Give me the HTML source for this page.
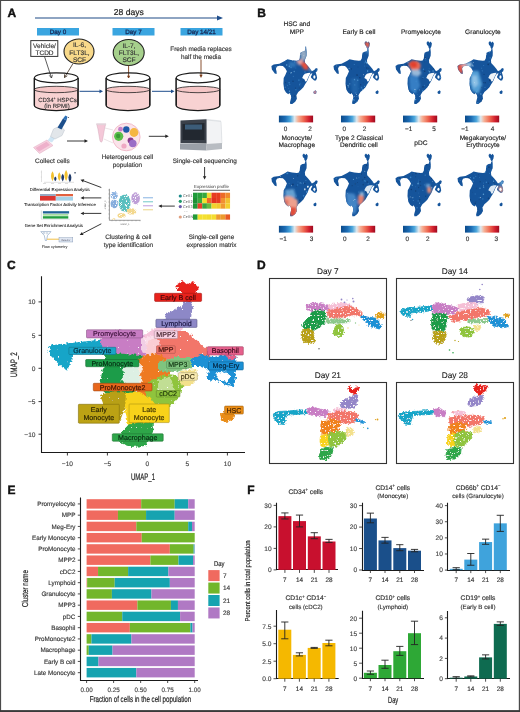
<!DOCTYPE html>
<html><head><meta charset="utf-8"><style>
html,body{margin:0;padding:0;background:#fff;}
svg{display:block;font-family:"Liberation Sans", sans-serif;text-rendering:geometricPrecision;will-change:transform;}
</style></head><body>
<svg width="520" height="712" viewBox="0 0 520 712">
<rect x="0" y="0" width="520" height="712" fill="#fff"/>
<filter id="fzA" x="-10%" y="-10%" width="120%" height="120%">
<feTurbulence type="fractalNoise" baseFrequency="0.8" numOctaves="1" seed="2" result="t"/>
<feDisplacementMap in="SourceGraphic" in2="t" scale="2.5" xChannelSelector="R" yChannelSelector="G" result="d"/>
<feTurbulence type="fractalNoise" baseFrequency="1.1" numOctaves="1" seed="9" result="n"/>
<feColorMatrix in="n" type="matrix" values="0 0 0 0 1  0 0 0 0 1  0 0 0 0 1  0 0 0 9 -5.2" result="wn"/>
<feComposite in="wn" in2="d" operator="in" result="wm"/>
<feMerge><feMergeNode in="d"/><feMergeNode in="wm"/></feMerge>
</filter>
<text x="7.4" y="17.1" font-size="12" text-anchor="start" fill="#111" font-weight="bold" stroke="#111" stroke-width="0.420" >A</text>
<text x="128.8" y="15" font-size="8.6" text-anchor="middle" fill="#222" stroke="#222" stroke-width="0.189" >28 days</text>
<line x1="35" y1="18" x2="219" y2="18" stroke="#1f4a85" stroke-width="1.1"/>
<path d="M223,18 L217,15.6 L217,20.4 Z" fill="#1f4e8c"/>
<rect x="37" y="28" width="42" height="7.5" fill="#3aa5e0"/>
<text x="58" y="34" font-size="6.3" text-anchor="middle" fill="#1a3260" stroke="#1a3260" stroke-width="0.320" >Day 0</text>
<rect x="112.5" y="28" width="42" height="7.5" fill="#3aa5e0"/>
<text x="133.5" y="34" font-size="6.3" text-anchor="middle" fill="#1a3260" stroke="#1a3260" stroke-width="0.320" >Day 7</text>
<rect x="180.5" y="28" width="42" height="7.5" fill="#3aa5e0"/>
<text x="201.5" y="34" font-size="6.3" text-anchor="middle" fill="#1a3260" stroke="#1a3260" stroke-width="0.320" >Day 14/21</text>
<rect x="30.8" y="40.6" width="27" height="15.8" fill="#fff" stroke="#333" stroke-width="1"/>
<text x="44.5" y="48" font-size="6.5" text-anchor="middle" fill="#333" stroke="#333" stroke-width="0.143" >Vehicle/</text>
<text x="44.5" y="55" font-size="6.5" text-anchor="middle" fill="#333" stroke="#333" stroke-width="0.143" >TCDD</text>
<ellipse cx="79" cy="51.5" rx="15" ry="12.5" fill="#f8d98a" stroke="#222" stroke-width="1.1"/>
<text x="79.5" y="46.9" font-size="6.6" text-anchor="middle" fill="#333" stroke="#333" stroke-width="0.145" >IL-6,</text>
<text x="79.5" y="54.5" font-size="6.6" text-anchor="middle" fill="#333" stroke="#333" stroke-width="0.145" >FLT3L,</text>
<text x="79.5" y="62.099999999999994" font-size="6.6" text-anchor="middle" fill="#333" stroke="#333" stroke-width="0.145" >SCF</text>
<ellipse cx="128.7" cy="52.5" rx="15.5" ry="13" fill="#a6d08c" stroke="#222" stroke-width="1.1"/>
<text x="129" y="47.6" font-size="6.6" text-anchor="middle" fill="#333" stroke="#333" stroke-width="0.145" >IL-7,</text>
<text x="129" y="55.0" font-size="6.6" text-anchor="middle" fill="#333" stroke="#333" stroke-width="0.145" >FLT3L,</text>
<text x="129" y="62.400000000000006" font-size="6.6" text-anchor="middle" fill="#333" stroke="#333" stroke-width="0.145" >SCF</text>
<path d="M44.5,56.5 L51.5,78" stroke="#333" stroke-width="0.8" fill="none"/>
<path d="M51.5,78 L49.3,75.4 M51.5,78 L52.4,74.8" stroke="#333" stroke-width="0.8" fill="none"/>
<path d="M73,63.5 L64.5,77.5" stroke="#3a2a1a" stroke-width="0.8" fill="none"/>
<path d="M64.5,77.5 L64.5,74.3 M64.5,77.5 L67.3,75.8" stroke="#3a2a1a" stroke-width="0.8" fill="none"/>
<line x1="128.6" y1="65.5" x2="128.6" y2="77" stroke="#7a3c1a" stroke-width="0.9"/>
<path d="M128.6,79 L127.0,75.8 L130.2,75.8 Z" fill="#7a3c1a"/>
<line x1="201" y1="59.5" x2="201" y2="76" stroke="#7a3c1a" stroke-width="0.9"/>
<path d="M201,78 L199.4,74.8 L202.6,74.8 Z" fill="#7a3c1a"/>
<text x="201" y="51" font-size="6.4" text-anchor="middle" fill="#333" stroke="#333" stroke-width="0.141" >Fresh media replaces</text>
<text x="201" y="58.6" font-size="6.4" text-anchor="middle" fill="#333" stroke="#333" stroke-width="0.141" >half the media</text>
<path d="M34.400000000000006,78 L34.400000000000006,105.5 A21.8,5 0 0 0 78.0,105.5 L78.0,78" fill="#f8d2d2" stroke="#1a1a1a" stroke-width="1.25"/>
<path d="M34.400000000000006,78 L34.400000000000006,89.5 L78.0,89.5 L78.0,78 Z" fill="#fff"/>
<ellipse cx="56.2" cy="89.5" rx="21.8" ry="3.2" fill="#f5c6c6" stroke="#222" stroke-width="0.8"/>
<path d="M34.400000000000006,78 L34.400000000000006,105.5 M78.0,78 L78.0,105.5" stroke="#1a1a1a" stroke-width="1.25"/>
<ellipse cx="56.2" cy="77.8" rx="21.8" ry="5" fill="none" stroke="#1a1a1a" stroke-width="1.2"/>
<path d="M106.2,78 L106.2,105.5 A21.8,5 0 0 0 149.8,105.5 L149.8,78" fill="#f8d2d2" stroke="#1a1a1a" stroke-width="1.25"/>
<path d="M106.2,78 L106.2,89.5 L149.8,89.5 L149.8,78 Z" fill="#fff"/>
<ellipse cx="128" cy="89.5" rx="21.8" ry="3.2" fill="#f5c6c6" stroke="#222" stroke-width="0.8"/>
<path d="M106.2,78 L106.2,105.5 M149.8,78 L149.8,105.5" stroke="#1a1a1a" stroke-width="1.25"/>
<ellipse cx="128" cy="77.8" rx="21.8" ry="5" fill="none" stroke="#1a1a1a" stroke-width="1.2"/>
<path d="M176.2,78 L176.2,105.5 A21.8,5 0 0 0 219.8,105.5 L219.8,78" fill="#f8d2d2" stroke="#1a1a1a" stroke-width="1.25"/>
<path d="M176.2,78 L176.2,89.5 L219.8,89.5 L219.8,78 Z" fill="#fff"/>
<ellipse cx="198" cy="89.5" rx="21.8" ry="3.2" fill="#f5c6c6" stroke="#222" stroke-width="0.8"/>
<path d="M176.2,78 L176.2,105.5 M219.8,78 L219.8,105.5" stroke="#1a1a1a" stroke-width="1.25"/>
<ellipse cx="198" cy="77.8" rx="21.8" ry="5" fill="none" stroke="#1a1a1a" stroke-width="1.2"/>
<text x="57.5" y="101.6" font-size="6.0" text-anchor="middle" fill="#333" stroke="#333" stroke-width="0.132" >CD34⁺ HSPCs</text>
<text x="57" y="107.7" font-size="6.0" text-anchor="middle" fill="#333" stroke="#333" stroke-width="0.132" >(in RPMI)</text>
<line x1="79.5" y1="91.3" x2="100.5" y2="91.3" stroke="#1f4e8c" stroke-width="1"/>
<path d="M103,91.3 L99.5,89.4 L99.5,93.2 Z" fill="#1f4e8c"/>
<line x1="152" y1="91.3" x2="172.0" y2="91.3" stroke="#1f4e8c" stroke-width="1"/>
<path d="M174.5,91.3 L171.0,89.4 L171.0,93.2 Z" fill="#1f4e8c"/>
<path d="M33.5,147.5 L47,140 L53,145.5 L39.5,153.5 Z" fill="#f6d0de" stroke="#e0a8c0" stroke-width="0.5"/>
<path d="M35.5,148 L46.5,141.8 L50,145 L39,151.5 Z" fill="#eeb0cb"/>
<path d="M47.5,140.5 L51,136 L55,138.5 L52,142.5 Z" fill="#cfe6f5"/>
<path d="M50.5,136.5 L53.5,129 L60,126 L64.5,130 L62,135.5 L55,139 Z" fill="#e2e6ea" stroke="#b8c0ca" stroke-width="0.5"/>
<path d="M57.5,127.5 L63,118.5 L66.5,120.5 L61.5,129.5 Z" fill="#1d4f8c"/>
<path d="M63,118.5 L65.5,115.5 L67.5,116.8 L66.5,120.5 Z" fill="#2c6fb5"/>
<circle cx="68.5" cy="117.5" r="0.6" fill="#556"/>
<line x1="67" y1="141" x2="85.5" y2="141" stroke="#222" stroke-width="0.9"/>
<path d="M88,141 L84.5,139.3 L84.5,142.7 Z" fill="#222"/>
<text x="52.3" y="163.3" font-size="6.5" text-anchor="middle" fill="#333" stroke="#333" stroke-width="0.143" >Collect cells</text>
<path d="M96.8,124.5 L105.6,124.5 L104.5,129 L102.5,140.5 Q101.2,144 99.9,140.5 L97.9,129 Z" fill="#f4c8d8" stroke="#c9a0b0" stroke-width="0.4"/>
<rect x="96.3" y="123.3" width="9.8" height="1.8" fill="#e3d2da"/>
<path d="M105,128 L113,130 M104,139 L113,143" stroke="#d9c9cf" stroke-width="0.5"/>
<circle cx="126.3" cy="137" r="13.8" fill="#fbe3ea" stroke="#efb0c2" stroke-width="0.8"/>
<circle cx="118.7" cy="136.3" r="4.6" fill="#5cbf4a"/><circle cx="118.2" cy="136" r="2.2" fill="#3c9a35"/>
<circle cx="126.3" cy="129.5" r="3.2" fill="#1f5aa8"/>
<circle cx="134" cy="132.5" r="4.4" fill="#f5b642"/>
<circle cx="130.6" cy="140.4" r="3" fill="#8a3a8a"/>
<circle cx="132.8" cy="143.5" r="3.8" fill="#9b6cc6"/>
<circle cx="120.5" cy="129.2" r="2.4" fill="#c580c8"/>
<circle cx="124" cy="146" r="2.6" fill="#f0a9c3"/>
<line x1="148.8" y1="136.3" x2="166.3" y2="136.3" stroke="#222" stroke-width="0.9"/>
<path d="M168.8,136.3 L165.3,134.6 L165.3,138 Z" fill="#222"/>
<text x="127.4" y="159.3" font-size="6.4" text-anchor="middle" fill="#333" stroke="#333" stroke-width="0.141" >Heterogenous cell</text>
<text x="127.4" y="167.2" font-size="6.4" text-anchor="middle" fill="#333" stroke="#333" stroke-width="0.141" >population</text>
<path d="M180.5,121 L205.5,118.8 L221,120.5 L222,143 L206.5,146 L180.5,144 Z" fill="#e9ebee"/>
<path d="M206.5,120 L221,121.5 L222,143.5 L206.5,146 Z" fill="#f2f3f5" stroke="#c8ccd2" stroke-width="0.4"/>
<path d="M180.5,120.5 L206.5,119.3 L206.5,143.5 L180.5,143 Z" fill="#3b414a"/>
<path d="M182.5,124 L204.5,123 L204.5,140 L182.5,140 Z" fill="#222830"/>
<rect x="185" y="124.5" width="17" height="5" fill="#3c5c78"/>
<path d="M180,143.5 L206.5,144 L206.5,150.5 L180,149.5 Z" fill="#9aa0a8"/>
<path d="M206.5,144 L222,143 L222,149 L206.5,150.5 Z" fill="#b8bcc2"/>
<text x="204.8" y="163.3" font-size="6.4" text-anchor="middle" fill="#333" stroke="#333" stroke-width="0.141" >Single-cell sequencing</text>
<line x1="204.6" y1="167" x2="204.6" y2="177" stroke="#222" stroke-width="0.9"/>
<path d="M204.6,179.6 L202.9,176.2 L206.3,176.2 Z" fill="#222"/>
<text x="211.5" y="187.6" font-size="4.4" text-anchor="middle" fill="#333" stroke="#333" stroke-width="0.000" >Expression profile</text>
<line x1="193" y1="190.3" x2="230" y2="190.3" stroke="#222" stroke-width="0.7"/>
<rect x="193.00" y="192.70" width="4.67" height="5.35" fill="#1f9a3a"/>
<rect x="197.62" y="192.70" width="4.67" height="5.35" fill="#2aa03c"/>
<rect x="202.25" y="192.70" width="4.67" height="5.35" fill="#35a83e"/>
<rect x="206.88" y="192.70" width="4.67" height="5.35" fill="#f0d830"/>
<rect x="211.50" y="192.70" width="4.67" height="5.35" fill="#e83a20"/>
<rect x="216.12" y="192.70" width="4.67" height="5.35" fill="#e63c1e"/>
<rect x="220.75" y="192.70" width="4.67" height="5.35" fill="#ec6a28"/>
<rect x="225.38" y="192.70" width="4.67" height="5.35" fill="#f08a2e"/>
<rect x="193.00" y="198.00" width="4.67" height="5.35" fill="#1f8f36"/>
<rect x="197.62" y="198.00" width="4.67" height="5.35" fill="#3aa83e"/>
<rect x="202.25" y="198.00" width="4.67" height="5.35" fill="#f2e02e"/>
<rect x="206.88" y="198.00" width="4.67" height="5.35" fill="#ec6a26"/>
<rect x="211.50" y="198.00" width="4.67" height="5.35" fill="#e3321e"/>
<rect x="216.12" y="198.00" width="4.67" height="5.35" fill="#e63c22"/>
<rect x="220.75" y="198.00" width="4.67" height="5.35" fill="#f29030"/>
<rect x="225.38" y="198.00" width="4.67" height="5.35" fill="#f2c030"/>
<rect x="193.00" y="203.30" width="4.67" height="5.35" fill="#20963a"/>
<rect x="197.62" y="203.30" width="4.67" height="5.35" fill="#e84028"/>
<rect x="202.25" y="203.30" width="4.67" height="5.35" fill="#3aa43c"/>
<rect x="206.88" y="203.30" width="4.67" height="5.35" fill="#6ab83c"/>
<rect x="211.50" y="203.30" width="4.67" height="5.35" fill="#f2d22c"/>
<rect x="216.12" y="203.30" width="4.67" height="5.35" fill="#f2c82c"/>
<rect x="220.75" y="203.30" width="4.67" height="5.35" fill="#f09a30"/>
<rect x="225.38" y="203.30" width="4.67" height="5.35" fill="#f4d02e"/>
<rect x="193.00" y="214.4" width="4.67" height="5.3" fill="#229a38"/>
<rect x="197.62" y="214.4" width="4.67" height="5.3" fill="#f4e030"/>
<rect x="202.25" y="214.4" width="4.67" height="5.3" fill="#f4e030"/>
<rect x="206.88" y="214.4" width="4.67" height="5.3" fill="#f2dc2e"/>
<rect x="211.50" y="214.4" width="4.67" height="5.3" fill="#f4dc30"/>
<rect x="216.12" y="214.4" width="4.67" height="5.3" fill="#ee9a2e"/>
<rect x="220.75" y="214.4" width="4.67" height="5.3" fill="#ec9a2e"/>
<rect x="225.38" y="214.4" width="4.67" height="5.3" fill="#e85a24"/>
<circle cx="180.3" cy="196" r="1.6" fill="#1e8c8c"/>
<text x="183" y="197.4" font-size="3.8" text-anchor="start" fill="#555" stroke="#555" stroke-width="0.000" >Cell 1</text>
<circle cx="180.3" cy="201.3" r="1.6" fill="#1e9a6a"/>
<text x="183" y="202.70000000000002" font-size="3.8" text-anchor="start" fill="#555" stroke="#555" stroke-width="0.000" >Cell 2</text>
<circle cx="180.3" cy="206.6" r="1.6" fill="#6a5aa8"/>
<text x="183" y="208.0" font-size="3.8" text-anchor="start" fill="#555" stroke="#555" stroke-width="0.000" >Cell 3</text>
<circle cx="180.3" cy="217" r="1.6" fill="#e0a080"/>
<text x="183" y="218.4" font-size="3.8" text-anchor="start" fill="#555" stroke="#555" stroke-width="0.000" >Cell N</text>
<text x="186" y="211.5" font-size="4" fill="#777" text-anchor="middle">...</text>
<text x="211.5" y="239" font-size="6.4" text-anchor="middle" fill="#333" stroke="#333" stroke-width="0.141" >Single-cell gene</text>
<text x="211.5" y="247" font-size="6.4" text-anchor="middle" fill="#333" stroke="#333" stroke-width="0.141" >expression matrix</text>
<line x1="174.8" y1="206.1" x2="161" y2="206.1" stroke="#222" stroke-width="0.9"/>
<path d="M158.3,206.1 L161.8,204.4 L161.8,207.8 Z" fill="#222"/>
<path d="M109.4,188.8 L109.4,220.3 L140.5,220.3" stroke="#333" stroke-width="0.5" fill="none"/>
<line x1="108.3" y1="190" x2="109.4" y2="190" stroke="#444" stroke-width="0.3"/>
<line x1="108.3" y1="194" x2="109.4" y2="194" stroke="#444" stroke-width="0.3"/>
<line x1="108.3" y1="198" x2="109.4" y2="198" stroke="#444" stroke-width="0.3"/>
<line x1="108.3" y1="202" x2="109.4" y2="202" stroke="#444" stroke-width="0.3"/>
<line x1="108.3" y1="206" x2="109.4" y2="206" stroke="#444" stroke-width="0.3"/>
<line x1="108.3" y1="210" x2="109.4" y2="210" stroke="#444" stroke-width="0.3"/>
<line x1="108.3" y1="214" x2="109.4" y2="214" stroke="#444" stroke-width="0.3"/>
<line x1="108.3" y1="218" x2="109.4" y2="218" stroke="#444" stroke-width="0.3"/>
<line x1="112" y1="220.3" x2="112" y2="221.3" stroke="#444" stroke-width="0.3"/>
<line x1="116" y1="220.3" x2="116" y2="221.3" stroke="#444" stroke-width="0.3"/>
<line x1="120" y1="220.3" x2="120" y2="221.3" stroke="#444" stroke-width="0.3"/>
<line x1="124" y1="220.3" x2="124" y2="221.3" stroke="#444" stroke-width="0.3"/>
<line x1="128" y1="220.3" x2="128" y2="221.3" stroke="#444" stroke-width="0.3"/>
<line x1="132" y1="220.3" x2="132" y2="221.3" stroke="#444" stroke-width="0.3"/>
<line x1="136" y1="220.3" x2="136" y2="221.3" stroke="#444" stroke-width="0.3"/>
<line x1="140" y1="220.3" x2="140" y2="221.3" stroke="#444" stroke-width="0.3"/>
<g filter="url(#fzA)" opacity="0.85">
<ellipse cx="114.2" cy="195.5" rx="3.6" ry="3.4" fill="#7aa6dc"/>
<ellipse cx="114.2" cy="204" rx="3.6" ry="4.2" fill="#6f9fd8"/>
<ellipse cx="124.6" cy="203" rx="6" ry="8.6" fill="#3db4b4"/>
<ellipse cx="135.6" cy="198.3" rx="4.3" ry="6" fill="#b590d2"/>
<ellipse cx="131.5" cy="211.5" rx="5" ry="3.2" fill="#f2d27a"/>
<ellipse cx="121.5" cy="215.5" rx="4" ry="2.5" fill="#f2d27a"/>
<ellipse cx="114" cy="219" rx="1.4" ry="0.8" fill="#f2d27a"/>
</g>
<rect x="143" y="197" width="10" height="1.4" fill="#a8c8ea"/>
<rect x="143" y="201" width="10" height="1.4" fill="#9ad8d8"/>
<rect x="143" y="205" width="10" height="1.4" fill="#d0b8e6"/>
<rect x="143" y="209" width="10" height="1.4" fill="#f0e0a8"/>
<text x="106" y="205" font-size="2.2" text-anchor="middle" fill="#555" stroke="#555" stroke-width="0.000" transform="rotate(-90 106 205)">UMAP_2</text>
<text x="125" y="224.5" font-size="2.2" text-anchor="middle" fill="#555" stroke="#555" stroke-width="0.000" >UMAP_1</text>
<text x="128.4" y="239" font-size="6.4" text-anchor="middle" fill="#333" stroke="#333" stroke-width="0.141" >Clustering &amp; cell</text>
<text x="128.4" y="247" font-size="6.4" text-anchor="middle" fill="#333" stroke="#333" stroke-width="0.141" >type identification</text>
<line x1="101.3" y1="187.5" x2="83.68" y2="180.89" stroke="#222" stroke-width="0.9"/><path d="M80.5,179.7 L84.28,179.30 L83.09,182.49 Z" fill="#222"/>
<line x1="101.3" y1="197.9" x2="83.90" y2="197.90" stroke="#222" stroke-width="0.9"/><path d="M80.5,197.9 L83.90,196.20 L83.90,199.60 Z" fill="#222"/>
<line x1="101.3" y1="213.4" x2="83.90" y2="213.40" stroke="#222" stroke-width="0.9"/><path d="M80.5,213.4 L83.90,211.70 L83.90,215.10 Z" fill="#222"/>
<line x1="101.3" y1="223.8" x2="82.72" y2="233.43" stroke="#222" stroke-width="0.9"/><path d="M79.7,235 L81.94,231.93 L83.50,234.94 Z" fill="#222"/>
<path d="M41.5,170.5 L41.5,182 M40.8,172 L41.5,172 M40.8,177 L41.5,177 M44,182.3 L74,182.3" stroke="#999" stroke-width="0.3" fill="none"/>
<path d="M52.5,171.3 C54.4,174.3 54.59,177.3 52.5,181.3 C50.41,177.3 50.6,174.3 52.5,171.3 Z" fill="#f2c12e"/>
<path d="M55.3,176.4 C56.8,177.87 56.949999999999996,179.34 55.3,181.3 C53.65,179.34 53.8,177.87 55.3,176.4 Z" fill="#1f3a6a"/>
<path d="M59.3,172.2 C61.199999999999996,174.84 61.39,177.48 59.3,181 C57.209999999999994,177.48 57.4,174.84 59.3,172.2 Z" fill="#f2c12e"/>
<path d="M62.7,173.8 C64.5,176.11 64.68,178.42000000000002 62.7,181.5 C60.720000000000006,178.42000000000002 60.900000000000006,176.11 62.7,173.8 Z" fill="#1f3a6a"/>
<path d="M66.1,170 C68.1,173.3 68.3,176.6 66.1,181 C63.89999999999999,176.6 64.1,173.3 66.1,170 Z" fill="#f2c12e"/>
<path d="M69.9,173.4 C71.80000000000001,176.07 71.99000000000001,178.74 69.9,182.3 C67.81,178.74 68.0,176.07 69.9,173.4 Z" fill="#1f3a6a"/>
<rect x="74.3" y="172" width="1.5" height="1.5" fill="#5a6a80"/>
<rect x="43.0" y="183.2" width="3" height="0.5" fill="#bbb"/>
<rect x="51.0" y="183.2" width="3" height="0.5" fill="#bbb"/>
<rect x="58.0" y="183.2" width="3" height="0.5" fill="#bbb"/>
<rect x="65.0" y="183.2" width="3" height="0.5" fill="#bbb"/>
<text x="59.8" y="191.3" font-size="4.3" text-anchor="middle" fill="#222" stroke="#222" stroke-width="0.080" >Differential Expression Analysis</text>
<rect x="40" y="194" width="15.8" height="2" fill="#98a8c0"/>
<rect x="40" y="196" width="15.8" height="4.6" fill="#dc3530"/>
<rect x="55.8" y="194" width="17.2" height="2" fill="#e2603e"/>
<rect x="55.8" y="196" width="17.2" height="0.8" fill="#f0c8c0"/>
<rect x="55.8" y="196.8" width="17.2" height="3.8" fill="#a6d2e8"/>
<text x="60" y="205.8" font-size="4.3" text-anchor="middle" fill="#222" stroke="#222" stroke-width="0.080" >Transcription Factor Activity Inference</text>
<line x1="41.3" y1="210.5" x2="41.3" y2="219.3" stroke="#8aa" stroke-width="0.4"/>
<rect x="42.9" y="211.2" width="26.2" height="2.3" fill="#1f6496"/>
<rect x="42.9" y="214" width="25.4" height="1.7" fill="#a8dea0"/>
<rect x="42.9" y="216.2" width="25.4" height="2.4" fill="#22a040"/>
<line x1="41.3" y1="219.3" x2="70" y2="219.3" stroke="#aab" stroke-width="0.3"/>
<text x="53.8" y="226.6" font-size="4.3" text-anchor="middle" fill="#222" stroke="#222" stroke-width="0.080" >Gene Set Enrichment Analysis</text>
<path d="M40.8,231.6 L51,231.6 L47.5,235.5 L46.5,240.5 L45.3,240.5 L44.3,235.5 Z" fill="none" stroke="#6a8ab0" stroke-width="0.5"/>
<circle cx="44" cy="233" r="0.8" fill="none" stroke="#6a8ab0" stroke-width="0.3"/><circle cx="47" cy="233.3" r="0.8" fill="none" stroke="#6a8ab0" stroke-width="0.3"/>
<line x1="47" y1="239.2" x2="59" y2="239.2" stroke="#f0b830" stroke-width="0.9"/>
<rect x="59" y="237.7" width="13.8" height="4.3" fill="#dfe6f2" stroke="#7a8fb0" stroke-width="0.4"/>
<text x="65.9" y="240.8" font-size="2.4" text-anchor="middle" fill="#556" stroke="#556" stroke-width="0.000" >Detector</text>
<text x="54.6" y="248" font-size="3.8" text-anchor="middle" fill="#333" stroke="#333" stroke-width="0.060" >Flow cytometry</text>
<defs><linearGradient id="rdbu" x1="0" x2="1" y1="0" y2="0">
<stop offset="0" stop-color="#0b4a8a"/><stop offset="0.18" stop-color="#1c6cb4"/><stop offset="0.33" stop-color="#4aa6dc"/>
<stop offset="0.46" stop-color="#dfe9ee"/><stop offset="0.56" stop-color="#f6b196"/><stop offset="0.72" stop-color="#ef6a52"/>
<stop offset="0.88" stop-color="#d2202e"/><stop offset="1" stop-color="#9c0a20"/></linearGradient>
<filter id="blB" x="-50%" y="-50%" width="200%" height="200%"><feGaussianBlur stdDeviation="3.5"/></filter>
<filter id="blB2" x="-50%" y="-50%" width="200%" height="200%"><feGaussianBlur stdDeviation="1.6"/></filter></defs>
<text x="257.2" y="16.9" font-size="12" text-anchor="start" fill="#111" font-weight="bold" stroke="#111" stroke-width="0.420" >B</text>
<g transform="translate(259.595,-65.096) scale(0.2434,0.378)">
<clipPath id="bc0"><path d="M48.5,346.8 L58,342.8 L81.4,340.7 L105.2,333 L114.6,329 L133.5,331.5 L152.9,333 L160,332 L165,326 L166,318 L168,312 L176,309 L185,308 L188,302 L188,295 L191,295 L192,302 L193.5,310 L193,320 L189,326 L186,331 L187,339 L198.5,346.8 L207.9,354.2 L214.9,360.6 L224.3,357.4 L231.7,352.1 L238.7,354.2 L236.3,360.6 L230.5,363.5 L234.2,371.2 L236.3,378.8 L231.7,384.9 L224.3,384.9 L212.8,378.8 L210.4,375.7 L214.9,369.6 L217.4,366.7 L212,366.5 L207,370 L202,376 L198,383 L193,389 L187,395 L180,403 L171,409 L159,415.5 L151.2,424.3 L153.3,433.6 L146.3,441.3 L134.4,447.3 L126.1,447.3 L124.9,442.6 L129.8,430.4 L128.6,424.3 L122.4,418.2 L117.9,421.4 L108.5,416.7 L101.1,409 L97.8,393.9 L99,378.6 L105.2,371.2 L112.2,360.6 L105.2,352.9 L95.7,346.8 L81.4,346 L71.1,348.1 L67,354.2 L69.9,361.9 L69.9,368 L62.5,366.7 L50.5,355.8 Z M222,414 L230,411 L234,414 L232,420 L226,421 L221,418 Z"/></clipPath>
<path d="M48.5,346.8 L58,342.8 L81.4,340.7 L105.2,333 L114.6,329 L133.5,331.5 L152.9,333 L160,332 L165,326 L166,318 L168,312 L176,309 L185,308 L188,302 L188,295 L191,295 L192,302 L193.5,310 L193,320 L189,326 L186,331 L187,339 L198.5,346.8 L207.9,354.2 L214.9,360.6 L224.3,357.4 L231.7,352.1 L238.7,354.2 L236.3,360.6 L230.5,363.5 L234.2,371.2 L236.3,378.8 L231.7,384.9 L224.3,384.9 L212.8,378.8 L210.4,375.7 L214.9,369.6 L217.4,366.7 L212,366.5 L207,370 L202,376 L198,383 L193,389 L187,395 L180,403 L171,409 L159,415.5 L151.2,424.3 L153.3,433.6 L146.3,441.3 L134.4,447.3 L126.1,447.3 L124.9,442.6 L129.8,430.4 L128.6,424.3 L122.4,418.2 L117.9,421.4 L108.5,416.7 L101.1,409 L97.8,393.9 L99,378.6 L105.2,371.2 L112.2,360.6 L105.2,352.9 L95.7,346.8 L81.4,346 L71.1,348.1 L67,354.2 L69.9,361.9 L69.9,368 L62.5,366.7 L50.5,355.8 Z M222,414 L230,411 L234,414 L232,420 L226,421 L221,418 Z" fill="#15549b"/>
<g clip-path="url(#bc0)">
<ellipse cx="186.3" cy="362.6" rx="3.0" ry="2.2" fill="#2f78bc"/><ellipse cx="63.1" cy="365.9" rx="1.8" ry="1.3" fill="#5a9ed4"/><ellipse cx="111.4" cy="344.1" rx="3.0" ry="2.1" fill="#5a9ed4"/><ellipse cx="124.2" cy="366.7" rx="2.1" ry="1.5" fill="#123f78"/><ellipse cx="122.8" cy="413.3" rx="2.6" ry="1.9" fill="#5a9ed4"/><ellipse cx="121.3" cy="391.0" rx="3.0" ry="2.1" fill="#3a82c4"/><ellipse cx="163.1" cy="404.9" rx="3.0" ry="2.1" fill="#174d8a"/><ellipse cx="178.4" cy="348.5" rx="2.8" ry="2.0" fill="#12457f"/><ellipse cx="236.7" cy="357.9" rx="1.8" ry="1.3" fill="#2f78bc"/><ellipse cx="193.0" cy="374.5" rx="2.5" ry="1.8" fill="#174d8a"/><ellipse cx="106.6" cy="390.6" rx="2.8" ry="2.0" fill="#12457f"/><ellipse cx="147.3" cy="405.3" rx="2.0" ry="1.5" fill="#123f78"/><ellipse cx="185.0" cy="313.5" rx="2.8" ry="2.0" fill="#2a6db0"/><ellipse cx="164.9" cy="396.3" rx="2.5" ry="1.8" fill="#3a82c4"/><ellipse cx="180.5" cy="322.0" rx="3.0" ry="2.2" fill="#3a82c4"/><ellipse cx="128.6" cy="365.1" rx="2.8" ry="2.0" fill="#5a9ed4"/><ellipse cx="127.0" cy="421.1" rx="3.1" ry="2.2" fill="#2f78bc"/><ellipse cx="233.4" cy="357.7" rx="2.1" ry="1.5" fill="#2f78bc"/><ellipse cx="121.8" cy="338.4" rx="2.1" ry="1.5" fill="#174d8a"/><ellipse cx="124.1" cy="395.4" rx="2.0" ry="1.5" fill="#3a82c4"/><ellipse cx="114.6" cy="398.4" rx="2.4" ry="1.7" fill="#2a6db0"/><ellipse cx="119.9" cy="406.5" rx="2.0" ry="1.4" fill="#2a6db0"/><ellipse cx="161.6" cy="383.9" rx="3.2" ry="2.3" fill="#2f78bc"/><ellipse cx="166.2" cy="392.3" rx="1.9" ry="1.4" fill="#2f78bc"/><ellipse cx="171.1" cy="316.7" rx="1.9" ry="1.3" fill="#5a9ed4"/><ellipse cx="129.3" cy="350.4" rx="3.3" ry="2.4" fill="#2f78bc"/><ellipse cx="138.4" cy="374.1" rx="2.0" ry="1.4" fill="#3a82c4"/><ellipse cx="143.7" cy="336.1" rx="2.7" ry="1.9" fill="#2f78bc"/><ellipse cx="157.3" cy="332.7" rx="3.3" ry="2.4" fill="#3a82c4"/><ellipse cx="108.7" cy="391.5" rx="1.9" ry="1.3" fill="#174d8a"/><ellipse cx="64.7" cy="349.1" rx="3.0" ry="2.1" fill="#2a6db0"/><ellipse cx="63.5" cy="344.9" rx="2.0" ry="1.4" fill="#174d8a"/><ellipse cx="137.3" cy="387.3" rx="2.8" ry="2.0" fill="#0f3c74"/><ellipse cx="142.0" cy="361.4" rx="2.3" ry="1.7" fill="#5a9ed4"/><ellipse cx="122.1" cy="347.8" rx="2.9" ry="2.1" fill="#5a9ed4"/><ellipse cx="173.1" cy="311.8" rx="2.3" ry="1.6" fill="#2a6db0"/><ellipse cx="196.8" cy="368.4" rx="2.0" ry="1.5" fill="#5a9ed4"/><ellipse cx="197.4" cy="351.0" rx="3.2" ry="2.3" fill="#174d8a"/><ellipse cx="194.6" cy="366.2" rx="2.7" ry="1.9" fill="#174d8a"/><ellipse cx="148.9" cy="352.2" rx="1.9" ry="1.4" fill="#2a6db0"/><ellipse cx="187.5" cy="348.6" rx="3.0" ry="2.1" fill="#123f78"/><ellipse cx="178.7" cy="386.7" rx="2.5" ry="1.8" fill="#12457f"/><ellipse cx="144.2" cy="426.4" rx="2.9" ry="2.1" fill="#12457f"/><ellipse cx="106.4" cy="332.8" rx="2.4" ry="1.7" fill="#3a82c4"/><ellipse cx="149.2" cy="409.8" rx="2.8" ry="2.0" fill="#2f78bc"/>
<g filter="url(#blB)">
<path d="M166,305 L190,300 L195,318 L190,331 L170,331 Z" fill="#93a9c2" opacity="1.0"/>
<path d="M150,331 L178,329 L182,342 L160,344 Z" fill="#e4a2a2" opacity="1.0"/>
<path d="M170,338 L192,336 L200,348 L199,357 L185,357 L172,347 Z" fill="#e5503e" opacity="1.0"/>
<path d="M205,352 L214,356 L212,360 L204,358 Z" fill="#9dbbd8" opacity="0.9"/>
<path d="M120,335 L150,336 L148,350 L120,350 Z" fill="#3d85c6" opacity="0.6"/>
<path d="M219,411 L233,410 L236,421 L220,422 Z" fill="#d98c98" opacity="1.0"/>
</g>
<ellipse cx="182.0" cy="319.3" rx="1.7" ry="1.2" fill="#cfe2f2"/><ellipse cx="130.9" cy="363.5" rx="1.3" ry="0.9" fill="#ffffff"/><ellipse cx="104.7" cy="402.4" rx="1.4" ry="1.0" fill="#ffffff"/><ellipse cx="135.6" cy="332.2" rx="1.8" ry="1.3" fill="#cfe2f2"/><ellipse cx="169.4" cy="316.1" rx="1.2" ry="0.9" fill="#ffffff"/>
<ellipse cx="225" cy="376" rx="4.5" ry="4.5" fill="#fff"/>
<path d="M209,365 L198,365.5 L186,367 L180,371.5 L175,378.5 L184,382 L188,388 L193,387 L197,381 L201,375 L206,369.5 Z" fill="#ffffff" filter="url(#blB2)"/>
</g></g>
<text x="296.79999999999995" y="26.199999999999996" font-size="6.6" text-anchor="middle" fill="#222" stroke="#222" stroke-width="0.145" >HSC and</text>
<text x="296.79999999999995" y="33.8" font-size="6.6" text-anchor="middle" fill="#222" stroke="#222" stroke-width="0.145" >MPP</text>
<rect x="278.9" y="115.6" width="34.2" height="6.8" fill="url(#rdbu)"/>
<text x="285.6" y="130.5" font-size="6.4" text-anchor="middle" fill="#333" stroke="#333" stroke-width="0.141" >0</text>
<text x="310.0" y="130.5" font-size="6.4" text-anchor="middle" fill="#333" stroke="#333" stroke-width="0.141" >2</text>
<g transform="translate(321.695,-65.096) scale(0.2434,0.378)">
<clipPath id="bc1"><path d="M48.5,346.8 L58,342.8 L81.4,340.7 L105.2,333 L114.6,329 L133.5,331.5 L152.9,333 L160,332 L165,326 L166,318 L168,312 L176,309 L185,308 L188,302 L188,295 L191,295 L192,302 L193.5,310 L193,320 L189,326 L186,331 L187,339 L198.5,346.8 L207.9,354.2 L214.9,360.6 L224.3,357.4 L231.7,352.1 L238.7,354.2 L236.3,360.6 L230.5,363.5 L234.2,371.2 L236.3,378.8 L231.7,384.9 L224.3,384.9 L212.8,378.8 L210.4,375.7 L214.9,369.6 L217.4,366.7 L212,366.5 L207,370 L202,376 L198,383 L193,389 L187,395 L180,403 L171,409 L159,415.5 L151.2,424.3 L153.3,433.6 L146.3,441.3 L134.4,447.3 L126.1,447.3 L124.9,442.6 L129.8,430.4 L128.6,424.3 L122.4,418.2 L117.9,421.4 L108.5,416.7 L101.1,409 L97.8,393.9 L99,378.6 L105.2,371.2 L112.2,360.6 L105.2,352.9 L95.7,346.8 L81.4,346 L71.1,348.1 L67,354.2 L69.9,361.9 L69.9,368 L62.5,366.7 L50.5,355.8 Z M222,414 L230,411 L234,414 L232,420 L226,421 L221,418 Z"/><path d="M176,285 L182,281 L188,285 L193,282 L198,287 L196,295 L191,299 L188,302 L183,294 L178,291 Z"/><path d="M184,296 L186,300 L191,300 L193,296 L190,293 Z"/></clipPath>
<path d="M48.5,346.8 L58,342.8 L81.4,340.7 L105.2,333 L114.6,329 L133.5,331.5 L152.9,333 L160,332 L165,326 L166,318 L168,312 L176,309 L185,308 L188,302 L188,295 L191,295 L192,302 L193.5,310 L193,320 L189,326 L186,331 L187,339 L198.5,346.8 L207.9,354.2 L214.9,360.6 L224.3,357.4 L231.7,352.1 L238.7,354.2 L236.3,360.6 L230.5,363.5 L234.2,371.2 L236.3,378.8 L231.7,384.9 L224.3,384.9 L212.8,378.8 L210.4,375.7 L214.9,369.6 L217.4,366.7 L212,366.5 L207,370 L202,376 L198,383 L193,389 L187,395 L180,403 L171,409 L159,415.5 L151.2,424.3 L153.3,433.6 L146.3,441.3 L134.4,447.3 L126.1,447.3 L124.9,442.6 L129.8,430.4 L128.6,424.3 L122.4,418.2 L117.9,421.4 L108.5,416.7 L101.1,409 L97.8,393.9 L99,378.6 L105.2,371.2 L112.2,360.6 L105.2,352.9 L95.7,346.8 L81.4,346 L71.1,348.1 L67,354.2 L69.9,361.9 L69.9,368 L62.5,366.7 L50.5,355.8 Z M222,414 L230,411 L234,414 L232,420 L226,421 L221,418 Z" fill="#15549b"/>
<path d="M176,285 L182,281 L188,285 L193,282 L198,287 L196,295 L191,299 L188,302 L183,294 L178,291 Z" fill="#15549b"/>
<path d="M184,296 L186,300 L191,300 L193,296 L190,293 Z" fill="#15549b"/>
<g clip-path="url(#bc1)">
<ellipse cx="136.3" cy="396.9" rx="2.0" ry="1.5" fill="#5a9ed4"/><ellipse cx="221.4" cy="370.3" rx="3.0" ry="2.1" fill="#12457f"/><ellipse cx="193.5" cy="352.6" rx="2.5" ry="1.8" fill="#12457f"/><ellipse cx="171.3" cy="391.1" rx="2.2" ry="1.6" fill="#174d8a"/><ellipse cx="122.6" cy="354.5" rx="2.4" ry="1.7" fill="#123f78"/><ellipse cx="188.7" cy="360.3" rx="3.1" ry="2.2" fill="#5a9ed4"/><ellipse cx="149.1" cy="349.5" rx="1.7" ry="1.2" fill="#12457f"/><ellipse cx="185.6" cy="352.1" rx="2.8" ry="2.0" fill="#0f3c74"/><ellipse cx="144.5" cy="427.4" rx="2.0" ry="1.4" fill="#3a82c4"/><ellipse cx="156.8" cy="377.6" rx="2.9" ry="2.0" fill="#0f3c74"/><ellipse cx="216.7" cy="364.5" rx="3.2" ry="2.3" fill="#2a6db0"/><ellipse cx="107.0" cy="353.9" rx="1.8" ry="1.3" fill="#12457f"/><ellipse cx="176.3" cy="346.8" rx="2.2" ry="1.5" fill="#2a6db0"/><ellipse cx="134.7" cy="382.8" rx="3.0" ry="2.2" fill="#5a9ed4"/><ellipse cx="197.5" cy="368.2" rx="2.0" ry="1.4" fill="#12457f"/><ellipse cx="102.5" cy="399.2" rx="3.2" ry="2.3" fill="#123f78"/><ellipse cx="168.7" cy="409.0" rx="2.5" ry="1.8" fill="#5a9ed4"/><ellipse cx="112.7" cy="353.1" rx="2.4" ry="1.7" fill="#5a9ed4"/><ellipse cx="175.9" cy="400.4" rx="2.3" ry="1.6" fill="#5a9ed4"/><ellipse cx="108.2" cy="398.7" rx="2.9" ry="2.1" fill="#5a9ed4"/><ellipse cx="140.1" cy="418.0" rx="2.7" ry="2.0" fill="#3a82c4"/><ellipse cx="178.8" cy="337.6" rx="2.8" ry="2.0" fill="#2f78bc"/><ellipse cx="112.1" cy="406.8" rx="1.9" ry="1.4" fill="#123f78"/><ellipse cx="115.5" cy="394.0" rx="2.6" ry="1.8" fill="#5a9ed4"/><ellipse cx="186.6" cy="395.0" rx="2.0" ry="1.4" fill="#5a9ed4"/><ellipse cx="163.6" cy="404.2" rx="3.3" ry="2.4" fill="#2f78bc"/><ellipse cx="235.8" cy="358.0" rx="1.9" ry="1.4" fill="#3a82c4"/><ellipse cx="119.6" cy="416.7" rx="3.2" ry="2.3" fill="#12457f"/><ellipse cx="179.7" cy="333.8" rx="2.3" ry="1.7" fill="#5a9ed4"/><ellipse cx="131.0" cy="435.9" rx="3.2" ry="2.3" fill="#3a82c4"/><ellipse cx="160.0" cy="396.7" rx="2.8" ry="2.0" fill="#12457f"/><ellipse cx="134.6" cy="437.1" rx="2.1" ry="1.5" fill="#3a82c4"/><ellipse cx="133.7" cy="343.0" rx="2.0" ry="1.4" fill="#3a82c4"/><ellipse cx="185.4" cy="338.2" rx="3.3" ry="2.4" fill="#5a9ed4"/><ellipse cx="177.3" cy="340.4" rx="2.3" ry="1.7" fill="#2a6db0"/><ellipse cx="145.6" cy="370.7" rx="3.2" ry="2.3" fill="#123f78"/><ellipse cx="214.0" cy="376.3" rx="1.8" ry="1.3" fill="#2f78bc"/><ellipse cx="179.6" cy="340.6" rx="2.7" ry="2.0" fill="#174d8a"/><ellipse cx="215.3" cy="365.6" rx="3.0" ry="2.2" fill="#123f78"/><ellipse cx="144.4" cy="440.7" rx="2.9" ry="2.1" fill="#2a6db0"/><ellipse cx="188.1" cy="385.1" rx="1.7" ry="1.2" fill="#174d8a"/><ellipse cx="148.0" cy="384.7" rx="2.8" ry="2.0" fill="#5a9ed4"/><ellipse cx="152.4" cy="407.0" rx="1.8" ry="1.3" fill="#2a6db0"/><ellipse cx="138.0" cy="388.3" rx="2.5" ry="1.8" fill="#174d8a"/><ellipse cx="142.3" cy="369.7" rx="1.8" ry="1.3" fill="#12457f"/>
<g filter="url(#blB)">
<path d="M176,283 L196,283 L196,297 L185,300 L178,291 Z" fill="#e8604e" opacity="1.0"/>
<path d="M183,296 L192,299 L193,312 L184,312 Z" fill="#5d9fd6" opacity="1.0"/>
<path d="M120,380 L150,380 L150,420 L125,420 Z" fill="#2e74b8" opacity="0.5"/>
</g>
<ellipse cx="60.7" cy="346.5" rx="1.1" ry="0.8" fill="#cfe2f2"/><ellipse cx="109.6" cy="402.2" rx="1.6" ry="1.1" fill="#cfe2f2"/><ellipse cx="133.2" cy="426.8" rx="1.5" ry="1.1" fill="#ffffff"/><ellipse cx="171.7" cy="369.8" rx="1.6" ry="1.2" fill="#ffffff"/><ellipse cx="142.6" cy="422.5" rx="1.8" ry="1.3" fill="#cfe2f2"/>
<ellipse cx="225" cy="376" rx="4.5" ry="4.5" fill="#fff"/>
<path d="M209,365 L198,365.5 L186,367 L180,371.5 L175,378.5 L184,382 L188,388 L193,387 L197,381 L201,375 L206,369.5 Z" fill="#ffffff" filter="url(#blB2)"/>
</g></g>
<text x="358.9" y="33.8" font-size="6.6" text-anchor="middle" fill="#222" stroke="#222" stroke-width="0.145" >Early B cell</text>
<rect x="341.0" y="115.6" width="34.2" height="6.8" fill="url(#rdbu)"/>
<text x="344.4" y="130.5" font-size="6.4" text-anchor="middle" fill="#333" stroke="#333" stroke-width="0.141" >0</text>
<text x="364.5" y="130.5" font-size="6.4" text-anchor="middle" fill="#333" stroke="#333" stroke-width="0.141" >2</text>
<g transform="translate(383.695,-65.096) scale(0.2434,0.378)">
<clipPath id="bc2"><path d="M48.5,346.8 L58,342.8 L81.4,340.7 L105.2,333 L114.6,329 L133.5,331.5 L152.9,333 L160,332 L165,326 L166,318 L168,312 L176,309 L185,308 L188,302 L188,295 L191,295 L192,302 L193.5,310 L193,320 L189,326 L186,331 L187,339 L198.5,346.8 L207.9,354.2 L214.9,360.6 L224.3,357.4 L231.7,352.1 L238.7,354.2 L236.3,360.6 L230.5,363.5 L234.2,371.2 L236.3,378.8 L231.7,384.9 L224.3,384.9 L212.8,378.8 L210.4,375.7 L214.9,369.6 L217.4,366.7 L212,366.5 L207,370 L202,376 L198,383 L193,389 L187,395 L180,403 L171,409 L159,415.5 L151.2,424.3 L153.3,433.6 L146.3,441.3 L134.4,447.3 L126.1,447.3 L124.9,442.6 L129.8,430.4 L128.6,424.3 L122.4,418.2 L117.9,421.4 L108.5,416.7 L101.1,409 L97.8,393.9 L99,378.6 L105.2,371.2 L112.2,360.6 L105.2,352.9 L95.7,346.8 L81.4,346 L71.1,348.1 L67,354.2 L69.9,361.9 L69.9,368 L62.5,366.7 L50.5,355.8 Z M222,414 L230,411 L234,414 L232,420 L226,421 L221,418 Z"/><path d="M176,285 L182,281 L188,285 L193,282 L198,287 L196,295 L191,299 L188,302 L183,294 L178,291 Z"/><path d="M184,296 L186,300 L191,300 L193,296 L190,293 Z"/></clipPath>
<path d="M48.5,346.8 L58,342.8 L81.4,340.7 L105.2,333 L114.6,329 L133.5,331.5 L152.9,333 L160,332 L165,326 L166,318 L168,312 L176,309 L185,308 L188,302 L188,295 L191,295 L192,302 L193.5,310 L193,320 L189,326 L186,331 L187,339 L198.5,346.8 L207.9,354.2 L214.9,360.6 L224.3,357.4 L231.7,352.1 L238.7,354.2 L236.3,360.6 L230.5,363.5 L234.2,371.2 L236.3,378.8 L231.7,384.9 L224.3,384.9 L212.8,378.8 L210.4,375.7 L214.9,369.6 L217.4,366.7 L212,366.5 L207,370 L202,376 L198,383 L193,389 L187,395 L180,403 L171,409 L159,415.5 L151.2,424.3 L153.3,433.6 L146.3,441.3 L134.4,447.3 L126.1,447.3 L124.9,442.6 L129.8,430.4 L128.6,424.3 L122.4,418.2 L117.9,421.4 L108.5,416.7 L101.1,409 L97.8,393.9 L99,378.6 L105.2,371.2 L112.2,360.6 L105.2,352.9 L95.7,346.8 L81.4,346 L71.1,348.1 L67,354.2 L69.9,361.9 L69.9,368 L62.5,366.7 L50.5,355.8 Z M222,414 L230,411 L234,414 L232,420 L226,421 L221,418 Z" fill="#15549b"/>
<path d="M176,285 L182,281 L188,285 L193,282 L198,287 L196,295 L191,299 L188,302 L183,294 L178,291 Z" fill="#15549b"/>
<path d="M184,296 L186,300 L191,300 L193,296 L190,293 Z" fill="#15549b"/>
<g clip-path="url(#bc2)">
<ellipse cx="162.9" cy="355.3" rx="2.7" ry="1.9" fill="#3a82c4"/><ellipse cx="184.9" cy="378.9" rx="2.9" ry="2.1" fill="#2a6db0"/><ellipse cx="187.0" cy="354.2" rx="2.1" ry="1.5" fill="#2a6db0"/><ellipse cx="183.0" cy="376.3" rx="2.5" ry="1.8" fill="#123f78"/><ellipse cx="167.1" cy="397.9" rx="2.1" ry="1.5" fill="#2f78bc"/><ellipse cx="204.6" cy="354.2" rx="2.0" ry="1.4" fill="#123f78"/><ellipse cx="189.3" cy="362.2" rx="2.3" ry="1.7" fill="#2a6db0"/><ellipse cx="92.8" cy="341.9" rx="1.9" ry="1.4" fill="#0f3c74"/><ellipse cx="98.5" cy="345.1" rx="2.9" ry="2.1" fill="#0f3c74"/><ellipse cx="158.9" cy="378.9" rx="2.0" ry="1.4" fill="#12457f"/><ellipse cx="147.7" cy="357.4" rx="3.3" ry="2.3" fill="#2a6db0"/><ellipse cx="106.1" cy="414.0" rx="2.6" ry="1.8" fill="#123f78"/><ellipse cx="185.3" cy="359.9" rx="3.2" ry="2.3" fill="#2a6db0"/><ellipse cx="173.2" cy="330.9" rx="2.4" ry="1.7" fill="#2a6db0"/><ellipse cx="161.4" cy="377.2" rx="1.7" ry="1.2" fill="#5a9ed4"/><ellipse cx="126.9" cy="345.4" rx="2.9" ry="2.1" fill="#123f78"/><ellipse cx="188.4" cy="362.1" rx="2.8" ry="2.0" fill="#5a9ed4"/><ellipse cx="183.1" cy="397.8" rx="3.0" ry="2.1" fill="#0f3c74"/><ellipse cx="128.7" cy="438.6" rx="2.1" ry="1.5" fill="#2a6db0"/><ellipse cx="137.7" cy="422.7" rx="2.1" ry="1.5" fill="#2a6db0"/><ellipse cx="133.3" cy="387.7" rx="2.5" ry="1.8" fill="#2f78bc"/><ellipse cx="133.7" cy="335.1" rx="1.9" ry="1.4" fill="#3a82c4"/><ellipse cx="132.1" cy="336.3" rx="2.5" ry="1.8" fill="#2a6db0"/><ellipse cx="137.1" cy="338.7" rx="3.2" ry="2.3" fill="#2a6db0"/><ellipse cx="229.3" cy="380.5" rx="1.8" ry="1.3" fill="#2f78bc"/><ellipse cx="168.7" cy="360.8" rx="3.0" ry="2.2" fill="#0f3c74"/><ellipse cx="99.9" cy="336.9" rx="2.4" ry="1.7" fill="#5a9ed4"/><ellipse cx="112.1" cy="370.6" rx="2.8" ry="2.0" fill="#2f78bc"/><ellipse cx="160.7" cy="412.7" rx="2.4" ry="1.7" fill="#5a9ed4"/><ellipse cx="235.0" cy="376.8" rx="3.3" ry="2.4" fill="#3a82c4"/><ellipse cx="168.6" cy="335.9" rx="2.0" ry="1.4" fill="#174d8a"/><ellipse cx="131.0" cy="435.3" rx="2.9" ry="2.1" fill="#5a9ed4"/><ellipse cx="161.7" cy="402.1" rx="2.9" ry="2.1" fill="#0f3c74"/><ellipse cx="149.4" cy="362.9" rx="2.2" ry="1.5" fill="#2f78bc"/><ellipse cx="127.3" cy="414.6" rx="3.2" ry="2.3" fill="#2f78bc"/><ellipse cx="128.1" cy="408.4" rx="2.5" ry="1.8" fill="#5a9ed4"/><ellipse cx="103.6" cy="346.4" rx="3.1" ry="2.2" fill="#3a82c4"/><ellipse cx="184.8" cy="326.6" rx="2.3" ry="1.7" fill="#123f78"/><ellipse cx="143.0" cy="340.2" rx="2.7" ry="1.9" fill="#3a82c4"/><ellipse cx="138.2" cy="411.7" rx="3.3" ry="2.4" fill="#12457f"/><ellipse cx="99.2" cy="396.8" rx="1.8" ry="1.3" fill="#5a9ed4"/><ellipse cx="170.0" cy="325.0" rx="3.2" ry="2.3" fill="#123f78"/><ellipse cx="231.6" cy="358.1" rx="2.2" ry="1.6" fill="#2a6db0"/><ellipse cx="140.1" cy="353.3" rx="1.7" ry="1.2" fill="#2a6db0"/><ellipse cx="202.8" cy="359.9" rx="2.8" ry="2.0" fill="#5a9ed4"/>
<g filter="url(#blB)">
<path d="M100,340 L118,332 L140,334 L152,342 L150,354 L132,360 L112,357 Z" fill="#e86a56" opacity="1.0"/>
<path d="M106,338 L122,334 L136,338 L138,348 L124,352 L110,348 Z" fill="#e2402f" opacity="1.0"/>
<path d="M112,357 L145,356 L155,366 L140,376 L115,370 Z" fill="#a6c4e0" opacity="0.9"/>
<path d="M104,372 L140,372 L150,400 L130,420 L108,410 Z" fill="#3d8ace" opacity="0.8"/>
</g>
<ellipse cx="128.8" cy="424.8" rx="1.1" ry="0.8" fill="#cfe2f2"/><ellipse cx="146.8" cy="427.5" rx="1.3" ry="1.0" fill="#ffffff"/><ellipse cx="128.5" cy="409.1" rx="1.7" ry="1.2" fill="#ffffff"/><ellipse cx="146.7" cy="410.2" rx="1.4" ry="1.0" fill="#cfe2f2"/><ellipse cx="170.9" cy="326.6" rx="1.3" ry="0.9" fill="#cfe2f2"/>
<ellipse cx="225" cy="376" rx="4.5" ry="4.5" fill="#fff"/>
<path d="M209,365 L198,365.5 L186,367 L180,371.5 L175,378.5 L184,382 L188,388 L193,387 L197,381 L201,375 L206,369.5 Z" fill="#f4f7fa" filter="url(#blB2)"/>
</g></g>
<text x="420.9" y="33.8" font-size="6.6" text-anchor="middle" fill="#222" stroke="#222" stroke-width="0.145" >Promyelocyte</text>
<rect x="403.0" y="115.6" width="34.2" height="6.8" fill="url(#rdbu)"/>
<text x="408.6" y="130.5" font-size="6.4" text-anchor="middle" fill="#333" stroke="#333" stroke-width="0.141" >−1</text>
<text x="434.0" y="130.5" font-size="6.4" text-anchor="middle" fill="#333" stroke="#333" stroke-width="0.141" >5</text>
<g transform="translate(445.695,-65.096) scale(0.2434,0.378)">
<clipPath id="bc3"><path d="M48.5,346.8 L58,342.8 L81.4,340.7 L105.2,333 L114.6,329 L133.5,331.5 L152.9,333 L160,332 L165,326 L166,318 L168,312 L176,309 L185,308 L188,302 L188,295 L191,295 L192,302 L193.5,310 L193,320 L189,326 L186,331 L187,339 L198.5,346.8 L207.9,354.2 L214.9,360.6 L224.3,357.4 L231.7,352.1 L238.7,354.2 L236.3,360.6 L230.5,363.5 L234.2,371.2 L236.3,378.8 L231.7,384.9 L224.3,384.9 L212.8,378.8 L210.4,375.7 L214.9,369.6 L217.4,366.7 L212,366.5 L207,370 L202,376 L198,383 L193,389 L187,395 L180,403 L171,409 L159,415.5 L151.2,424.3 L153.3,433.6 L146.3,441.3 L134.4,447.3 L126.1,447.3 L124.9,442.6 L129.8,430.4 L128.6,424.3 L122.4,418.2 L117.9,421.4 L108.5,416.7 L101.1,409 L97.8,393.9 L99,378.6 L105.2,371.2 L112.2,360.6 L105.2,352.9 L95.7,346.8 L81.4,346 L71.1,348.1 L67,354.2 L69.9,361.9 L69.9,368 L62.5,366.7 L50.5,355.8 Z M222,414 L230,411 L234,414 L232,420 L226,421 L221,418 Z"/><path d="M176,285 L182,281 L188,285 L193,282 L198,287 L196,295 L191,299 L188,302 L183,294 L178,291 Z"/><path d="M184,296 L186,300 L191,300 L193,296 L190,293 Z"/></clipPath>
<path d="M48.5,346.8 L58,342.8 L81.4,340.7 L105.2,333 L114.6,329 L133.5,331.5 L152.9,333 L160,332 L165,326 L166,318 L168,312 L176,309 L185,308 L188,302 L188,295 L191,295 L192,302 L193.5,310 L193,320 L189,326 L186,331 L187,339 L198.5,346.8 L207.9,354.2 L214.9,360.6 L224.3,357.4 L231.7,352.1 L238.7,354.2 L236.3,360.6 L230.5,363.5 L234.2,371.2 L236.3,378.8 L231.7,384.9 L224.3,384.9 L212.8,378.8 L210.4,375.7 L214.9,369.6 L217.4,366.7 L212,366.5 L207,370 L202,376 L198,383 L193,389 L187,395 L180,403 L171,409 L159,415.5 L151.2,424.3 L153.3,433.6 L146.3,441.3 L134.4,447.3 L126.1,447.3 L124.9,442.6 L129.8,430.4 L128.6,424.3 L122.4,418.2 L117.9,421.4 L108.5,416.7 L101.1,409 L97.8,393.9 L99,378.6 L105.2,371.2 L112.2,360.6 L105.2,352.9 L95.7,346.8 L81.4,346 L71.1,348.1 L67,354.2 L69.9,361.9 L69.9,368 L62.5,366.7 L50.5,355.8 Z M222,414 L230,411 L234,414 L232,420 L226,421 L221,418 Z" fill="#15549b"/>
<path d="M176,285 L182,281 L188,285 L193,282 L198,287 L196,295 L191,299 L188,302 L183,294 L178,291 Z" fill="#15549b"/>
<path d="M184,296 L186,300 L191,300 L193,296 L190,293 Z" fill="#15549b"/>
<g clip-path="url(#bc3)">
<ellipse cx="126.4" cy="415.1" rx="2.6" ry="1.9" fill="#5a9ed4"/><ellipse cx="144.4" cy="421.0" rx="2.9" ry="2.1" fill="#5a9ed4"/><ellipse cx="191.2" cy="376.7" rx="3.0" ry="2.2" fill="#0f3c74"/><ellipse cx="147.9" cy="403.5" rx="2.2" ry="1.6" fill="#0f3c74"/><ellipse cx="144.9" cy="435.0" rx="2.5" ry="1.8" fill="#12457f"/><ellipse cx="180.2" cy="311.4" rx="2.5" ry="1.8" fill="#2f78bc"/><ellipse cx="103.1" cy="379.9" rx="2.7" ry="1.9" fill="#123f78"/><ellipse cx="120.1" cy="406.7" rx="2.1" ry="1.5" fill="#2f78bc"/><ellipse cx="109.4" cy="342.1" rx="1.7" ry="1.2" fill="#5a9ed4"/><ellipse cx="154.9" cy="390.8" rx="2.1" ry="1.5" fill="#123f78"/><ellipse cx="99.9" cy="394.6" rx="2.1" ry="1.5" fill="#2f78bc"/><ellipse cx="116.7" cy="419.7" rx="1.7" ry="1.2" fill="#0f3c74"/><ellipse cx="113.3" cy="347.5" rx="2.7" ry="2.0" fill="#2f78bc"/><ellipse cx="120.6" cy="407.4" rx="2.4" ry="1.7" fill="#174d8a"/><ellipse cx="150.1" cy="359.7" rx="2.1" ry="1.5" fill="#3a82c4"/><ellipse cx="123.5" cy="386.5" rx="2.2" ry="1.6" fill="#123f78"/><ellipse cx="131.9" cy="443.8" rx="2.6" ry="1.9" fill="#3a82c4"/><ellipse cx="161.4" cy="403.4" rx="2.3" ry="1.7" fill="#2f78bc"/><ellipse cx="148.0" cy="426.1" rx="3.0" ry="2.1" fill="#174d8a"/><ellipse cx="179.0" cy="335.7" rx="3.3" ry="2.4" fill="#2f78bc"/><ellipse cx="157.5" cy="369.0" rx="2.0" ry="1.4" fill="#0f3c74"/><ellipse cx="102.3" cy="389.3" rx="2.8" ry="2.0" fill="#174d8a"/><ellipse cx="123.6" cy="403.8" rx="2.8" ry="2.0" fill="#0f3c74"/><ellipse cx="146.6" cy="440.0" rx="2.7" ry="1.9" fill="#12457f"/><ellipse cx="103.0" cy="396.7" rx="2.2" ry="1.6" fill="#2f78bc"/><ellipse cx="182.0" cy="338.8" rx="2.4" ry="1.7" fill="#12457f"/><ellipse cx="99.9" cy="381.6" rx="3.1" ry="2.2" fill="#174d8a"/><ellipse cx="174.6" cy="342.4" rx="3.3" ry="2.4" fill="#0f3c74"/><ellipse cx="111.3" cy="408.9" rx="2.2" ry="1.6" fill="#0f3c74"/><ellipse cx="180.4" cy="393.5" rx="1.7" ry="1.2" fill="#2a6db0"/><ellipse cx="67.3" cy="350.6" rx="2.9" ry="2.1" fill="#3a82c4"/><ellipse cx="101.6" cy="347.6" rx="1.9" ry="1.3" fill="#12457f"/><ellipse cx="98.9" cy="397.5" rx="2.0" ry="1.4" fill="#174d8a"/><ellipse cx="181.0" cy="384.9" rx="3.0" ry="2.1" fill="#0f3c74"/><ellipse cx="162.1" cy="391.3" rx="2.7" ry="1.9" fill="#0f3c74"/><ellipse cx="156.1" cy="345.6" rx="2.0" ry="1.5" fill="#2f78bc"/><ellipse cx="123.4" cy="404.9" rx="2.0" ry="1.4" fill="#0f3c74"/><ellipse cx="147.2" cy="352.5" rx="2.5" ry="1.8" fill="#2a6db0"/><ellipse cx="57.7" cy="354.2" rx="2.8" ry="2.0" fill="#2f78bc"/><ellipse cx="133.6" cy="395.4" rx="1.9" ry="1.4" fill="#0f3c74"/><ellipse cx="124.1" cy="417.5" rx="2.1" ry="1.5" fill="#3a82c4"/><ellipse cx="104.9" cy="401.2" rx="1.9" ry="1.3" fill="#174d8a"/><ellipse cx="187.0" cy="386.4" rx="3.0" ry="2.1" fill="#174d8a"/><ellipse cx="52.0" cy="347.9" rx="2.6" ry="1.8" fill="#174d8a"/><ellipse cx="182.8" cy="325.2" rx="3.2" ry="2.3" fill="#2a6db0"/>
<g filter="url(#blB)">
<path d="M47,344 L62,341 L70,348 L70,368 L60,366 L50,358 Z" fill="#e2574a" opacity="1.0"/>
<path d="M62,341 L85,339 L88,349 L70,352 Z" fill="#eaa4a0" opacity="1.0"/>
<path d="M85,339 L106,337 L106,348 L88,350 Z" fill="#a9cde8" opacity="1.0"/>
<path d="M102,360 L135,360 L150,395 L135,420 L108,412 L100,390 Z" fill="#5aa6dc" opacity="0.9"/>
<path d="M108,372 L128,372 L134,395 L118,405 L108,392 Z" fill="#9ccbea" opacity="0.8"/>
</g>
<ellipse cx="114.2" cy="337.0" rx="1.4" ry="1.0" fill="#ffffff"/><ellipse cx="225.9" cy="365.7" rx="1.4" ry="1.0" fill="#ffffff"/><ellipse cx="118.2" cy="391.3" rx="1.8" ry="1.3" fill="#cfe2f2"/><ellipse cx="111.6" cy="346.3" rx="1.8" ry="1.3" fill="#ffffff"/><ellipse cx="168.6" cy="317.0" rx="1.6" ry="1.1" fill="#ffffff"/>
<ellipse cx="225" cy="376" rx="4.5" ry="4.5" fill="#fff"/>
<path d="M209,365 L198,365.5 L186,367 L180,371.5 L175,378.5 L184,382 L188,388 L193,387 L197,381 L201,375 L206,369.5 Z" fill="#eef3f8" filter="url(#blB2)"/>
</g></g>
<text x="482.9" y="33.8" font-size="6.6" text-anchor="middle" fill="#222" stroke="#222" stroke-width="0.145" >Granulocyte</text>
<rect x="465.0" y="115.6" width="34.2" height="6.8" fill="url(#rdbu)"/>
<text x="465.0" y="130.5" font-size="6.4" text-anchor="middle" fill="#333" stroke="#333" stroke-width="0.141" >−1</text>
<text x="492.6" y="130.5" font-size="6.4" text-anchor="middle" fill="#333" stroke="#333" stroke-width="0.141" >4</text>
<g transform="translate(259.595,47.204) scale(0.2434,0.378)">
<clipPath id="bc4"><path d="M48.5,346.8 L58,342.8 L81.4,340.7 L105.2,333 L114.6,329 L133.5,331.5 L152.9,333 L160,332 L165,326 L166,318 L168,312 L176,309 L185,308 L188,302 L188,295 L191,295 L192,302 L193.5,310 L193,320 L189,326 L186,331 L187,339 L198.5,346.8 L207.9,354.2 L214.9,360.6 L224.3,357.4 L231.7,352.1 L238.7,354.2 L236.3,360.6 L230.5,363.5 L234.2,371.2 L236.3,378.8 L231.7,384.9 L224.3,384.9 L212.8,378.8 L210.4,375.7 L214.9,369.6 L217.4,366.7 L212,366.5 L207,370 L202,376 L198,383 L193,389 L187,395 L180,403 L171,409 L159,415.5 L151.2,424.3 L153.3,433.6 L146.3,441.3 L134.4,447.3 L126.1,447.3 L124.9,442.6 L129.8,430.4 L128.6,424.3 L122.4,418.2 L117.9,421.4 L108.5,416.7 L101.1,409 L97.8,393.9 L99,378.6 L105.2,371.2 L112.2,360.6 L105.2,352.9 L95.7,346.8 L81.4,346 L71.1,348.1 L67,354.2 L69.9,361.9 L69.9,368 L62.5,366.7 L50.5,355.8 Z M222,414 L230,411 L234,414 L232,420 L226,421 L221,418 Z"/><path d="M176,285 L182,281 L188,285 L193,282 L198,287 L196,295 L191,299 L188,302 L183,294 L178,291 Z"/><path d="M184,296 L186,300 L191,300 L193,296 L190,293 Z"/></clipPath>
<path d="M48.5,346.8 L58,342.8 L81.4,340.7 L105.2,333 L114.6,329 L133.5,331.5 L152.9,333 L160,332 L165,326 L166,318 L168,312 L176,309 L185,308 L188,302 L188,295 L191,295 L192,302 L193.5,310 L193,320 L189,326 L186,331 L187,339 L198.5,346.8 L207.9,354.2 L214.9,360.6 L224.3,357.4 L231.7,352.1 L238.7,354.2 L236.3,360.6 L230.5,363.5 L234.2,371.2 L236.3,378.8 L231.7,384.9 L224.3,384.9 L212.8,378.8 L210.4,375.7 L214.9,369.6 L217.4,366.7 L212,366.5 L207,370 L202,376 L198,383 L193,389 L187,395 L180,403 L171,409 L159,415.5 L151.2,424.3 L153.3,433.6 L146.3,441.3 L134.4,447.3 L126.1,447.3 L124.9,442.6 L129.8,430.4 L128.6,424.3 L122.4,418.2 L117.9,421.4 L108.5,416.7 L101.1,409 L97.8,393.9 L99,378.6 L105.2,371.2 L112.2,360.6 L105.2,352.9 L95.7,346.8 L81.4,346 L71.1,348.1 L67,354.2 L69.9,361.9 L69.9,368 L62.5,366.7 L50.5,355.8 Z M222,414 L230,411 L234,414 L232,420 L226,421 L221,418 Z" fill="#15549b"/>
<path d="M176,285 L182,281 L188,285 L193,282 L198,287 L196,295 L191,299 L188,302 L183,294 L178,291 Z" fill="#15549b"/>
<path d="M184,296 L186,300 L191,300 L193,296 L190,293 Z" fill="#15549b"/>
<g clip-path="url(#bc4)">
<ellipse cx="110.5" cy="404.4" rx="3.0" ry="2.2" fill="#3a82c4"/><ellipse cx="190.4" cy="352.9" rx="1.8" ry="1.3" fill="#5a9ed4"/><ellipse cx="157.9" cy="356.3" rx="2.2" ry="1.6" fill="#2a6db0"/><ellipse cx="166.8" cy="359.0" rx="2.5" ry="1.8" fill="#5a9ed4"/><ellipse cx="165.4" cy="404.9" rx="2.7" ry="2.0" fill="#0f3c74"/><ellipse cx="149.0" cy="405.2" rx="2.2" ry="1.6" fill="#3a82c4"/><ellipse cx="146.7" cy="407.3" rx="2.7" ry="1.9" fill="#3a82c4"/><ellipse cx="171.8" cy="360.2" rx="3.1" ry="2.2" fill="#2a6db0"/><ellipse cx="121.7" cy="378.7" rx="2.1" ry="1.5" fill="#2a6db0"/><ellipse cx="122.7" cy="379.9" rx="3.3" ry="2.3" fill="#0f3c74"/><ellipse cx="220.9" cy="363.8" rx="1.8" ry="1.3" fill="#2a6db0"/><ellipse cx="133.7" cy="401.6" rx="2.0" ry="1.4" fill="#0f3c74"/><ellipse cx="177.4" cy="398.6" rx="1.7" ry="1.2" fill="#0f3c74"/><ellipse cx="111.1" cy="334.4" rx="2.6" ry="1.9" fill="#2f78bc"/><ellipse cx="117.6" cy="419.1" rx="3.1" ry="2.2" fill="#2f78bc"/><ellipse cx="200.0" cy="368.3" rx="3.2" ry="2.3" fill="#5a9ed4"/><ellipse cx="164.9" cy="332.8" rx="2.6" ry="1.9" fill="#2a6db0"/><ellipse cx="68.0" cy="346.0" rx="2.8" ry="2.0" fill="#123f78"/><ellipse cx="101.8" cy="387.9" rx="2.0" ry="1.4" fill="#2f78bc"/><ellipse cx="152.9" cy="433.0" rx="2.0" ry="1.4" fill="#174d8a"/><ellipse cx="235.0" cy="379.2" rx="1.7" ry="1.2" fill="#123f78"/><ellipse cx="65.0" cy="353.3" rx="2.1" ry="1.5" fill="#2a6db0"/><ellipse cx="136.9" cy="363.1" rx="3.2" ry="2.3" fill="#0f3c74"/><ellipse cx="180.7" cy="393.3" rx="3.0" ry="2.1" fill="#3a82c4"/><ellipse cx="123.3" cy="398.1" rx="2.5" ry="1.8" fill="#2a6db0"/><ellipse cx="150.7" cy="393.5" rx="1.9" ry="1.4" fill="#3a82c4"/><ellipse cx="105.7" cy="371.1" rx="2.6" ry="1.9" fill="#5a9ed4"/><ellipse cx="226.6" cy="383.8" rx="3.0" ry="2.1" fill="#3a82c4"/><ellipse cx="179.9" cy="359.5" rx="1.9" ry="1.4" fill="#5a9ed4"/><ellipse cx="109.7" cy="383.5" rx="3.2" ry="2.3" fill="#12457f"/><ellipse cx="115.1" cy="333.9" rx="3.0" ry="2.2" fill="#3a82c4"/><ellipse cx="143.7" cy="376.9" rx="1.8" ry="1.3" fill="#2a6db0"/><ellipse cx="142.6" cy="421.0" rx="2.9" ry="2.0" fill="#2f78bc"/><ellipse cx="122.7" cy="395.2" rx="2.2" ry="1.6" fill="#5a9ed4"/><ellipse cx="196.2" cy="382.2" rx="3.1" ry="2.2" fill="#2a6db0"/><ellipse cx="185.8" cy="360.9" rx="2.9" ry="2.1" fill="#123f78"/><ellipse cx="156.1" cy="364.3" rx="2.8" ry="2.0" fill="#2f78bc"/><ellipse cx="106.2" cy="406.2" rx="2.2" ry="1.6" fill="#5a9ed4"/><ellipse cx="156.6" cy="340.2" rx="3.1" ry="2.2" fill="#12457f"/><ellipse cx="231.9" cy="357.0" rx="1.9" ry="1.3" fill="#12457f"/><ellipse cx="105.9" cy="352.3" rx="1.9" ry="1.3" fill="#2f78bc"/><ellipse cx="151.2" cy="368.3" rx="2.5" ry="1.8" fill="#174d8a"/><ellipse cx="114.5" cy="366.8" rx="1.7" ry="1.2" fill="#2f78bc"/><ellipse cx="121.2" cy="361.2" rx="1.7" ry="1.2" fill="#5a9ed4"/><ellipse cx="193.5" cy="383.1" rx="2.6" ry="1.9" fill="#5a9ed4"/>
<g filter="url(#blB)">
<path d="M104,378 L140,375 L150,395 L140,400 L108,398 Z" fill="#6fa8d8" opacity="0.9"/>
<path d="M100,394 L128,394 L156,404 L158,440 L148,447 L130,447 L112,420 L102,410 Z" fill="#eea08e" opacity="1.0"/>
<path d="M124,422 L152,424 L150,445 L132,447 L122,440 Z" fill="#e0503e" opacity="1.0"/>
<path d="M102,402 L118,404 L118,418 L106,414 Z" fill="#e4705e" opacity="1.0"/>
</g>
<ellipse cx="139.1" cy="347.5" rx="1.6" ry="1.1" fill="#ffffff"/><ellipse cx="130.9" cy="366.6" rx="1.7" ry="1.2" fill="#cfe2f2"/><ellipse cx="85.5" cy="341.8" rx="1.3" ry="0.9" fill="#ffffff"/><ellipse cx="224.9" cy="365.0" rx="1.3" ry="0.9" fill="#cfe2f2"/><ellipse cx="226.5" cy="382.5" rx="1.4" ry="1.0" fill="#cfe2f2"/>
<ellipse cx="225" cy="376" rx="4.5" ry="4.5" fill="#fff"/>
<ellipse cx="198" cy="369" rx="3" ry="2.5" fill="#fff"/><ellipse cx="186" cy="376" rx="2.5" ry="3" fill="#fff"/>
</g></g>
<text x="296.79999999999995" y="139.70000000000002" font-size="6.6" text-anchor="middle" fill="#222" stroke="#222" stroke-width="0.145" >Monocyte/</text>
<text x="296.79999999999995" y="147.3" font-size="6.6" text-anchor="middle" fill="#222" stroke="#222" stroke-width="0.145" >Macrophage</text>
<rect x="278.9" y="225.8" width="34.2" height="6.8" fill="url(#rdbu)"/>
<text x="283.1" y="240.70000000000002" font-size="6.4" text-anchor="middle" fill="#333" stroke="#333" stroke-width="0.141" >−1</text>
<text x="311.6" y="240.70000000000002" font-size="6.4" text-anchor="middle" fill="#333" stroke="#333" stroke-width="0.141" >3</text>
<g transform="translate(321.695,47.204) scale(0.2434,0.378)">
<clipPath id="bc5"><path d="M48.5,346.8 L58,342.8 L81.4,340.7 L105.2,333 L114.6,329 L133.5,331.5 L152.9,333 L160,332 L165,326 L166,318 L168,312 L176,309 L185,308 L188,302 L188,295 L191,295 L192,302 L193.5,310 L193,320 L189,326 L186,331 L187,339 L198.5,346.8 L207.9,354.2 L214.9,360.6 L224.3,357.4 L231.7,352.1 L238.7,354.2 L236.3,360.6 L230.5,363.5 L234.2,371.2 L236.3,378.8 L231.7,384.9 L224.3,384.9 L212.8,378.8 L210.4,375.7 L214.9,369.6 L217.4,366.7 L212,366.5 L207,370 L202,376 L198,383 L193,389 L187,395 L180,403 L171,409 L159,415.5 L151.2,424.3 L153.3,433.6 L146.3,441.3 L134.4,447.3 L126.1,447.3 L124.9,442.6 L129.8,430.4 L128.6,424.3 L122.4,418.2 L117.9,421.4 L108.5,416.7 L101.1,409 L97.8,393.9 L99,378.6 L105.2,371.2 L112.2,360.6 L105.2,352.9 L95.7,346.8 L81.4,346 L71.1,348.1 L67,354.2 L69.9,361.9 L69.9,368 L62.5,366.7 L50.5,355.8 Z M222,414 L230,411 L234,414 L232,420 L226,421 L221,418 Z"/><path d="M176,285 L182,281 L188,285 L193,282 L198,287 L196,295 L191,299 L188,302 L183,294 L178,291 Z"/><path d="M184,296 L186,300 L191,300 L193,296 L190,293 Z"/></clipPath>
<path d="M48.5,346.8 L58,342.8 L81.4,340.7 L105.2,333 L114.6,329 L133.5,331.5 L152.9,333 L160,332 L165,326 L166,318 L168,312 L176,309 L185,308 L188,302 L188,295 L191,295 L192,302 L193.5,310 L193,320 L189,326 L186,331 L187,339 L198.5,346.8 L207.9,354.2 L214.9,360.6 L224.3,357.4 L231.7,352.1 L238.7,354.2 L236.3,360.6 L230.5,363.5 L234.2,371.2 L236.3,378.8 L231.7,384.9 L224.3,384.9 L212.8,378.8 L210.4,375.7 L214.9,369.6 L217.4,366.7 L212,366.5 L207,370 L202,376 L198,383 L193,389 L187,395 L180,403 L171,409 L159,415.5 L151.2,424.3 L153.3,433.6 L146.3,441.3 L134.4,447.3 L126.1,447.3 L124.9,442.6 L129.8,430.4 L128.6,424.3 L122.4,418.2 L117.9,421.4 L108.5,416.7 L101.1,409 L97.8,393.9 L99,378.6 L105.2,371.2 L112.2,360.6 L105.2,352.9 L95.7,346.8 L81.4,346 L71.1,348.1 L67,354.2 L69.9,361.9 L69.9,368 L62.5,366.7 L50.5,355.8 Z M222,414 L230,411 L234,414 L232,420 L226,421 L221,418 Z" fill="#15549b"/>
<path d="M176,285 L182,281 L188,285 L193,282 L198,287 L196,295 L191,299 L188,302 L183,294 L178,291 Z" fill="#15549b"/>
<path d="M184,296 L186,300 L191,300 L193,296 L190,293 Z" fill="#15549b"/>
<g clip-path="url(#bc5)">
<ellipse cx="107.0" cy="412.5" rx="2.2" ry="1.6" fill="#2a6db0"/><ellipse cx="204.9" cy="372.0" rx="3.1" ry="2.2" fill="#5a9ed4"/><ellipse cx="181.6" cy="325.3" rx="2.2" ry="1.6" fill="#174d8a"/><ellipse cx="59.6" cy="346.8" rx="3.1" ry="2.2" fill="#2f78bc"/><ellipse cx="115.7" cy="406.1" rx="2.8" ry="2.0" fill="#2a6db0"/><ellipse cx="187.1" cy="356.5" rx="2.6" ry="1.8" fill="#0f3c74"/><ellipse cx="180.1" cy="316.5" rx="2.4" ry="1.7" fill="#174d8a"/><ellipse cx="181.5" cy="382.2" rx="3.2" ry="2.3" fill="#0f3c74"/><ellipse cx="209.1" cy="356.2" rx="2.3" ry="1.6" fill="#3a82c4"/><ellipse cx="191.4" cy="361.4" rx="3.0" ry="2.1" fill="#2a6db0"/><ellipse cx="168.0" cy="351.0" rx="3.3" ry="2.4" fill="#174d8a"/><ellipse cx="172.1" cy="395.0" rx="2.3" ry="1.6" fill="#174d8a"/><ellipse cx="221.7" cy="371.3" rx="2.0" ry="1.4" fill="#12457f"/><ellipse cx="146.0" cy="436.3" rx="3.1" ry="2.2" fill="#174d8a"/><ellipse cx="149.1" cy="368.2" rx="1.7" ry="1.2" fill="#2a6db0"/><ellipse cx="170.5" cy="363.7" rx="3.1" ry="2.2" fill="#12457f"/><ellipse cx="114.1" cy="352.0" rx="2.0" ry="1.4" fill="#123f78"/><ellipse cx="177.5" cy="381.8" rx="2.3" ry="1.6" fill="#2f78bc"/><ellipse cx="176.9" cy="344.7" rx="3.1" ry="2.2" fill="#0f3c74"/><ellipse cx="132.1" cy="395.6" rx="2.0" ry="1.4" fill="#3a82c4"/><ellipse cx="65.4" cy="365.2" rx="2.9" ry="2.1" fill="#0f3c74"/><ellipse cx="144.1" cy="415.0" rx="1.8" ry="1.3" fill="#12457f"/><ellipse cx="164.2" cy="404.9" rx="2.8" ry="2.0" fill="#2f78bc"/><ellipse cx="150.5" cy="383.1" rx="1.8" ry="1.3" fill="#3a82c4"/><ellipse cx="138.3" cy="361.3" rx="3.3" ry="2.4" fill="#174d8a"/><ellipse cx="153.0" cy="345.3" rx="2.5" ry="1.8" fill="#2a6db0"/><ellipse cx="173.2" cy="401.0" rx="3.3" ry="2.4" fill="#174d8a"/><ellipse cx="180.4" cy="354.1" rx="2.2" ry="1.6" fill="#3a82c4"/><ellipse cx="125.2" cy="366.3" rx="2.4" ry="1.7" fill="#12457f"/><ellipse cx="163.4" cy="335.2" rx="2.2" ry="1.6" fill="#123f78"/><ellipse cx="188.1" cy="391.5" rx="3.0" ry="2.1" fill="#3a82c4"/><ellipse cx="138.0" cy="417.9" rx="3.2" ry="2.3" fill="#2a6db0"/><ellipse cx="123.8" cy="388.2" rx="1.8" ry="1.3" fill="#2a6db0"/><ellipse cx="146.5" cy="358.0" rx="1.7" ry="1.2" fill="#0f3c74"/><ellipse cx="207.5" cy="365.9" rx="2.4" ry="1.7" fill="#5a9ed4"/><ellipse cx="130.2" cy="349.8" rx="2.2" ry="1.6" fill="#5a9ed4"/><ellipse cx="184.5" cy="312.3" rx="2.5" ry="1.8" fill="#0f3c74"/><ellipse cx="166.7" cy="386.2" rx="2.0" ry="1.4" fill="#2a6db0"/><ellipse cx="112.7" cy="356.6" rx="1.9" ry="1.3" fill="#123f78"/><ellipse cx="110.9" cy="414.6" rx="1.9" ry="1.3" fill="#2f78bc"/><ellipse cx="176.0" cy="353.3" rx="3.2" ry="2.3" fill="#2f78bc"/><ellipse cx="134.1" cy="428.2" rx="3.0" ry="2.2" fill="#123f78"/><ellipse cx="190.7" cy="380.0" rx="2.0" ry="1.4" fill="#174d8a"/><ellipse cx="226.9" cy="363.8" rx="2.5" ry="1.8" fill="#5a9ed4"/><ellipse cx="130.0" cy="429.7" rx="2.0" ry="1.4" fill="#123f78"/>
<g filter="url(#blB)">
<path d="M150,392 L166,388 L175,398 L168,414 L156,420 L150,410 Z" fill="#e7806e" opacity="1.0"/>
<path d="M100,385 L135,388 L148,410 L140,440 L122,440 L104,416 Z" fill="#4a8ccc" opacity="0.85"/>
<path d="M155,384 L170,382 L176,392 L160,394 Z" fill="#9cc4e4" opacity="0.8"/>
</g>
<ellipse cx="130.1" cy="406.0" rx="1.5" ry="1.1" fill="#cfe2f2"/><ellipse cx="136.5" cy="403.0" rx="1.8" ry="1.3" fill="#ffffff"/><ellipse cx="177.2" cy="328.3" rx="1.8" ry="1.3" fill="#cfe2f2"/><ellipse cx="144.2" cy="346.2" rx="1.7" ry="1.2" fill="#cfe2f2"/><ellipse cx="104.8" cy="387.0" rx="1.2" ry="0.9" fill="#cfe2f2"/>
<ellipse cx="225" cy="376" rx="4.5" ry="4.5" fill="#fff"/>
<path d="M209,365 L198,365.5 L186,367 L180,371.5 L175,378.5 L184,382 L188,388 L193,387 L197,381 L201,375 L206,369.5 Z" fill="#dce8f3" filter="url(#blB2)"/>
</g></g>
<text x="358.9" y="139.70000000000002" font-size="6.6" text-anchor="middle" fill="#222" stroke="#222" stroke-width="0.145" >Type 2 Classical</text>
<text x="358.9" y="147.3" font-size="6.6" text-anchor="middle" fill="#222" stroke="#222" stroke-width="0.145" >Dendritic cell</text>
<rect x="341.0" y="225.8" width="34.2" height="6.8" fill="url(#rdbu)"/>
<text x="344.9" y="240.70000000000002" font-size="6.4" text-anchor="middle" fill="#333" stroke="#333" stroke-width="0.141" >0</text>
<text x="368.0" y="240.70000000000002" font-size="6.4" text-anchor="middle" fill="#333" stroke="#333" stroke-width="0.141" >2</text>
<g transform="translate(383.695,47.204) scale(0.2434,0.378)">
<clipPath id="bc6"><path d="M48.5,346.8 L58,342.8 L81.4,340.7 L105.2,333 L114.6,329 L133.5,331.5 L152.9,333 L160,332 L165,326 L166,318 L168,312 L176,309 L185,308 L188,302 L188,295 L191,295 L192,302 L193.5,310 L193,320 L189,326 L186,331 L187,339 L198.5,346.8 L207.9,354.2 L214.9,360.6 L224.3,357.4 L231.7,352.1 L238.7,354.2 L236.3,360.6 L230.5,363.5 L234.2,371.2 L236.3,378.8 L231.7,384.9 L224.3,384.9 L212.8,378.8 L210.4,375.7 L214.9,369.6 L217.4,366.7 L212,366.5 L207,370 L202,376 L198,383 L193,389 L187,395 L180,403 L171,409 L159,415.5 L151.2,424.3 L153.3,433.6 L146.3,441.3 L134.4,447.3 L126.1,447.3 L124.9,442.6 L129.8,430.4 L128.6,424.3 L122.4,418.2 L117.9,421.4 L108.5,416.7 L101.1,409 L97.8,393.9 L99,378.6 L105.2,371.2 L112.2,360.6 L105.2,352.9 L95.7,346.8 L81.4,346 L71.1,348.1 L67,354.2 L69.9,361.9 L69.9,368 L62.5,366.7 L50.5,355.8 Z M222,414 L230,411 L234,414 L232,420 L226,421 L221,418 Z"/><path d="M176,285 L182,281 L188,285 L193,282 L198,287 L196,295 L191,299 L188,302 L183,294 L178,291 Z"/><path d="M184,296 L186,300 L191,300 L193,296 L190,293 Z"/></clipPath>
<path d="M48.5,346.8 L58,342.8 L81.4,340.7 L105.2,333 L114.6,329 L133.5,331.5 L152.9,333 L160,332 L165,326 L166,318 L168,312 L176,309 L185,308 L188,302 L188,295 L191,295 L192,302 L193.5,310 L193,320 L189,326 L186,331 L187,339 L198.5,346.8 L207.9,354.2 L214.9,360.6 L224.3,357.4 L231.7,352.1 L238.7,354.2 L236.3,360.6 L230.5,363.5 L234.2,371.2 L236.3,378.8 L231.7,384.9 L224.3,384.9 L212.8,378.8 L210.4,375.7 L214.9,369.6 L217.4,366.7 L212,366.5 L207,370 L202,376 L198,383 L193,389 L187,395 L180,403 L171,409 L159,415.5 L151.2,424.3 L153.3,433.6 L146.3,441.3 L134.4,447.3 L126.1,447.3 L124.9,442.6 L129.8,430.4 L128.6,424.3 L122.4,418.2 L117.9,421.4 L108.5,416.7 L101.1,409 L97.8,393.9 L99,378.6 L105.2,371.2 L112.2,360.6 L105.2,352.9 L95.7,346.8 L81.4,346 L71.1,348.1 L67,354.2 L69.9,361.9 L69.9,368 L62.5,366.7 L50.5,355.8 Z M222,414 L230,411 L234,414 L232,420 L226,421 L221,418 Z" fill="#15549b"/>
<path d="M176,285 L182,281 L188,285 L193,282 L198,287 L196,295 L191,299 L188,302 L183,294 L178,291 Z" fill="#15549b"/>
<path d="M184,296 L186,300 L191,300 L193,296 L190,293 Z" fill="#15549b"/>
<g clip-path="url(#bc6)">
<ellipse cx="116.8" cy="365.2" rx="2.8" ry="2.0" fill="#5a9ed4"/><ellipse cx="62.1" cy="350.0" rx="3.0" ry="2.2" fill="#2a6db0"/><ellipse cx="65.6" cy="345.8" rx="2.9" ry="2.1" fill="#12457f"/><ellipse cx="131.6" cy="380.4" rx="2.7" ry="1.9" fill="#0f3c74"/><ellipse cx="132.5" cy="333.7" rx="3.2" ry="2.3" fill="#0f3c74"/><ellipse cx="151.9" cy="365.5" rx="2.3" ry="1.7" fill="#123f78"/><ellipse cx="121.6" cy="397.6" rx="3.1" ry="2.2" fill="#2a6db0"/><ellipse cx="113.5" cy="376.5" rx="2.9" ry="2.1" fill="#0f3c74"/><ellipse cx="141.5" cy="406.6" rx="2.6" ry="1.9" fill="#3a82c4"/><ellipse cx="189.5" cy="315.0" rx="2.1" ry="1.5" fill="#174d8a"/><ellipse cx="86.2" cy="343.0" rx="3.1" ry="2.2" fill="#174d8a"/><ellipse cx="147.8" cy="403.4" rx="3.1" ry="2.2" fill="#12457f"/><ellipse cx="147.4" cy="412.7" rx="2.3" ry="1.6" fill="#5a9ed4"/><ellipse cx="196.4" cy="366.8" rx="2.7" ry="1.9" fill="#12457f"/><ellipse cx="149.3" cy="356.0" rx="2.7" ry="1.9" fill="#123f78"/><ellipse cx="216.6" cy="369.0" rx="2.4" ry="1.7" fill="#2f78bc"/><ellipse cx="185.8" cy="337.5" rx="1.7" ry="1.2" fill="#2a6db0"/><ellipse cx="167.1" cy="364.2" rx="2.6" ry="1.9" fill="#2a6db0"/><ellipse cx="161.0" cy="378.9" rx="2.4" ry="1.7" fill="#2f78bc"/><ellipse cx="64.7" cy="351.5" rx="2.0" ry="1.4" fill="#5a9ed4"/><ellipse cx="149.1" cy="366.2" rx="2.4" ry="1.7" fill="#174d8a"/><ellipse cx="137.0" cy="424.5" rx="2.8" ry="2.0" fill="#3a82c4"/><ellipse cx="110.5" cy="344.1" rx="3.2" ry="2.3" fill="#3a82c4"/><ellipse cx="113.2" cy="355.9" rx="1.8" ry="1.3" fill="#2f78bc"/><ellipse cx="186.2" cy="363.0" rx="2.8" ry="2.0" fill="#2a6db0"/><ellipse cx="143.7" cy="371.0" rx="2.6" ry="1.9" fill="#12457f"/><ellipse cx="196.0" cy="371.3" rx="3.1" ry="2.2" fill="#2f78bc"/><ellipse cx="141.2" cy="361.0" rx="2.9" ry="2.1" fill="#5a9ed4"/><ellipse cx="176.5" cy="310.8" rx="2.7" ry="1.9" fill="#123f78"/><ellipse cx="113.2" cy="366.4" rx="1.8" ry="1.3" fill="#12457f"/><ellipse cx="147.8" cy="334.0" rx="1.7" ry="1.2" fill="#0f3c74"/><ellipse cx="225.2" cy="381.5" rx="2.6" ry="1.8" fill="#174d8a"/><ellipse cx="143.4" cy="385.6" rx="1.9" ry="1.3" fill="#2a6db0"/><ellipse cx="170.7" cy="338.5" rx="3.3" ry="2.4" fill="#2a6db0"/><ellipse cx="144.1" cy="351.3" rx="2.0" ry="1.4" fill="#2a6db0"/><ellipse cx="131.3" cy="342.7" rx="2.1" ry="1.5" fill="#12457f"/><ellipse cx="118.9" cy="337.8" rx="2.7" ry="1.9" fill="#174d8a"/><ellipse cx="172.5" cy="394.2" rx="3.1" ry="2.2" fill="#12457f"/><ellipse cx="219.4" cy="363.9" rx="2.2" ry="1.5" fill="#2f78bc"/><ellipse cx="121.7" cy="405.6" rx="2.1" ry="1.5" fill="#3a82c4"/><ellipse cx="185.3" cy="326.1" rx="1.8" ry="1.3" fill="#3a82c4"/><ellipse cx="196.5" cy="346.6" rx="2.6" ry="1.9" fill="#123f78"/><ellipse cx="142.4" cy="356.9" rx="2.7" ry="1.9" fill="#2f78bc"/><ellipse cx="197.7" cy="372.1" rx="2.6" ry="1.8" fill="#5a9ed4"/><ellipse cx="131.8" cy="369.5" rx="1.7" ry="1.2" fill="#3a82c4"/>
<g filter="url(#blB)">
<path d="M178,371 L194,370 L196,381 L188,388 L180,384 Z" fill="#e8907a" opacity="1.0"/>
<path d="M172,362 L190,362 L190,370 L174,370 Z" fill="#7eb4e0" opacity="0.8"/>
</g>
<ellipse cx="147.6" cy="394.9" rx="1.3" ry="0.9" fill="#ffffff"/><ellipse cx="99.9" cy="399.2" rx="1.6" ry="1.1" fill="#cfe2f2"/><ellipse cx="117.1" cy="398.6" rx="1.8" ry="1.3" fill="#ffffff"/><ellipse cx="201.7" cy="355.5" rx="1.2" ry="0.9" fill="#ffffff"/><ellipse cx="108.6" cy="396.0" rx="1.6" ry="1.1" fill="#ffffff"/>
<ellipse cx="225" cy="376" rx="4.5" ry="4.5" fill="#fff"/>
</g></g>
<text x="420.9" y="144.5" font-size="6.6" text-anchor="middle" fill="#222" stroke="#222" stroke-width="0.145" >pDC</text>
<rect x="403.0" y="225.8" width="34.2" height="6.8" fill="url(#rdbu)"/>
<text x="407.2" y="240.70000000000002" font-size="6.4" text-anchor="middle" fill="#333" stroke="#333" stroke-width="0.141" >0</text>
<text x="427.7" y="240.70000000000002" font-size="6.4" text-anchor="middle" fill="#333" stroke="#333" stroke-width="0.141" >2</text>
<g transform="translate(445.695,47.204) scale(0.2434,0.378)">
<clipPath id="bc7"><path d="M48.5,346.8 L58,342.8 L81.4,340.7 L105.2,333 L114.6,329 L133.5,331.5 L152.9,333 L160,332 L165,326 L166,318 L168,312 L176,309 L185,308 L188,302 L188,295 L191,295 L192,302 L193.5,310 L193,320 L189,326 L186,331 L187,339 L198.5,346.8 L207.9,354.2 L214.9,360.6 L224.3,357.4 L231.7,352.1 L238.7,354.2 L236.3,360.6 L230.5,363.5 L234.2,371.2 L236.3,378.8 L231.7,384.9 L224.3,384.9 L212.8,378.8 L210.4,375.7 L214.9,369.6 L217.4,366.7 L212,366.5 L207,370 L202,376 L198,383 L193,389 L187,395 L180,403 L171,409 L159,415.5 L151.2,424.3 L153.3,433.6 L146.3,441.3 L134.4,447.3 L126.1,447.3 L124.9,442.6 L129.8,430.4 L128.6,424.3 L122.4,418.2 L117.9,421.4 L108.5,416.7 L101.1,409 L97.8,393.9 L99,378.6 L105.2,371.2 L112.2,360.6 L105.2,352.9 L95.7,346.8 L81.4,346 L71.1,348.1 L67,354.2 L69.9,361.9 L69.9,368 L62.5,366.7 L50.5,355.8 Z M222,414 L230,411 L234,414 L232,420 L226,421 L221,418 Z"/><path d="M176,285 L182,281 L188,285 L193,282 L198,287 L196,295 L191,299 L188,302 L183,294 L178,291 Z"/><path d="M184,296 L186,300 L191,300 L193,296 L190,293 Z"/></clipPath>
<path d="M48.5,346.8 L58,342.8 L81.4,340.7 L105.2,333 L114.6,329 L133.5,331.5 L152.9,333 L160,332 L165,326 L166,318 L168,312 L176,309 L185,308 L188,302 L188,295 L191,295 L192,302 L193.5,310 L193,320 L189,326 L186,331 L187,339 L198.5,346.8 L207.9,354.2 L214.9,360.6 L224.3,357.4 L231.7,352.1 L238.7,354.2 L236.3,360.6 L230.5,363.5 L234.2,371.2 L236.3,378.8 L231.7,384.9 L224.3,384.9 L212.8,378.8 L210.4,375.7 L214.9,369.6 L217.4,366.7 L212,366.5 L207,370 L202,376 L198,383 L193,389 L187,395 L180,403 L171,409 L159,415.5 L151.2,424.3 L153.3,433.6 L146.3,441.3 L134.4,447.3 L126.1,447.3 L124.9,442.6 L129.8,430.4 L128.6,424.3 L122.4,418.2 L117.9,421.4 L108.5,416.7 L101.1,409 L97.8,393.9 L99,378.6 L105.2,371.2 L112.2,360.6 L105.2,352.9 L95.7,346.8 L81.4,346 L71.1,348.1 L67,354.2 L69.9,361.9 L69.9,368 L62.5,366.7 L50.5,355.8 Z M222,414 L230,411 L234,414 L232,420 L226,421 L221,418 Z" fill="#15549b"/>
<path d="M176,285 L182,281 L188,285 L193,282 L198,287 L196,295 L191,299 L188,302 L183,294 L178,291 Z" fill="#15549b"/>
<path d="M184,296 L186,300 L191,300 L193,296 L190,293 Z" fill="#15549b"/>
<g clip-path="url(#bc7)">
<ellipse cx="139.2" cy="344.0" rx="1.9" ry="1.4" fill="#2f78bc"/><ellipse cx="101.0" cy="344.7" rx="2.0" ry="1.4" fill="#5a9ed4"/><ellipse cx="123.6" cy="341.4" rx="2.2" ry="1.6" fill="#3a82c4"/><ellipse cx="155.1" cy="388.8" rx="3.0" ry="2.1" fill="#5a9ed4"/><ellipse cx="175.4" cy="399.7" rx="3.0" ry="2.2" fill="#0f3c74"/><ellipse cx="196.3" cy="379.5" rx="3.2" ry="2.3" fill="#0f3c74"/><ellipse cx="112.8" cy="354.8" rx="2.7" ry="1.9" fill="#3a82c4"/><ellipse cx="141.6" cy="356.0" rx="2.9" ry="2.1" fill="#12457f"/><ellipse cx="123.7" cy="408.7" rx="2.6" ry="1.8" fill="#174d8a"/><ellipse cx="223.7" cy="359.7" rx="2.4" ry="1.7" fill="#0f3c74"/><ellipse cx="198.0" cy="359.2" rx="2.6" ry="1.9" fill="#123f78"/><ellipse cx="188.6" cy="341.4" rx="1.9" ry="1.4" fill="#2a6db0"/><ellipse cx="94.5" cy="346.6" rx="3.2" ry="2.3" fill="#0f3c74"/><ellipse cx="222.2" cy="374.3" rx="2.6" ry="1.8" fill="#12457f"/><ellipse cx="155.2" cy="359.5" rx="2.0" ry="1.4" fill="#2f78bc"/><ellipse cx="220.5" cy="361.4" rx="3.2" ry="2.3" fill="#2a6db0"/><ellipse cx="115.4" cy="346.3" rx="3.1" ry="2.2" fill="#3a82c4"/><ellipse cx="180.4" cy="333.8" rx="2.4" ry="1.7" fill="#2f78bc"/><ellipse cx="167.7" cy="316.7" rx="2.9" ry="2.1" fill="#3a82c4"/><ellipse cx="131.9" cy="428.5" rx="2.7" ry="1.9" fill="#12457f"/><ellipse cx="134.1" cy="337.6" rx="1.9" ry="1.3" fill="#0f3c74"/><ellipse cx="136.5" cy="342.9" rx="2.2" ry="1.6" fill="#174d8a"/><ellipse cx="196.6" cy="354.3" rx="2.4" ry="1.7" fill="#5a9ed4"/><ellipse cx="182.8" cy="374.5" rx="2.4" ry="1.7" fill="#12457f"/><ellipse cx="162.3" cy="331.1" rx="2.2" ry="1.6" fill="#3a82c4"/><ellipse cx="137.4" cy="402.4" rx="1.7" ry="1.2" fill="#123f78"/><ellipse cx="195.3" cy="362.7" rx="3.1" ry="2.2" fill="#2a6db0"/><ellipse cx="177.6" cy="317.0" rx="3.2" ry="2.3" fill="#0f3c74"/><ellipse cx="167.0" cy="357.5" rx="2.7" ry="1.9" fill="#3a82c4"/><ellipse cx="186.6" cy="322.2" rx="2.0" ry="1.4" fill="#174d8a"/><ellipse cx="126.7" cy="373.6" rx="3.2" ry="2.3" fill="#174d8a"/><ellipse cx="121.2" cy="412.9" rx="2.7" ry="1.9" fill="#0f3c74"/><ellipse cx="110.0" cy="383.7" rx="1.8" ry="1.3" fill="#174d8a"/><ellipse cx="192.8" cy="311.8" rx="2.8" ry="2.0" fill="#5a9ed4"/><ellipse cx="186.3" cy="324.7" rx="2.2" ry="1.6" fill="#3a82c4"/><ellipse cx="163.7" cy="349.7" rx="1.7" ry="1.2" fill="#174d8a"/><ellipse cx="120.2" cy="337.3" rx="1.8" ry="1.3" fill="#2a6db0"/><ellipse cx="137.9" cy="397.7" rx="2.4" ry="1.7" fill="#2a6db0"/><ellipse cx="121.1" cy="388.2" rx="2.8" ry="2.0" fill="#2a6db0"/><ellipse cx="175.0" cy="359.8" rx="2.3" ry="1.7" fill="#0f3c74"/><ellipse cx="152.6" cy="401.3" rx="2.2" ry="1.6" fill="#3a82c4"/><ellipse cx="100.4" cy="404.0" rx="3.0" ry="2.1" fill="#0f3c74"/><ellipse cx="221.0" cy="364.3" rx="2.7" ry="1.9" fill="#174d8a"/><ellipse cx="156.1" cy="370.2" rx="2.4" ry="1.7" fill="#5a9ed4"/><ellipse cx="140.9" cy="373.2" rx="2.5" ry="1.8" fill="#5a9ed4"/>
<g filter="url(#blB)">
<path d="M216,368 L234,370 L236,384 L228,385 L218,378 Z" fill="#ee9c8c" opacity="1.0"/>
<path d="M222,355 L236,352 L237,364 L226,366 Z" fill="#7ab8e6" opacity="0.9"/>
</g>
<ellipse cx="143.6" cy="397.7" rx="1.7" ry="1.2" fill="#ffffff"/><ellipse cx="188.3" cy="301.6" rx="1.8" ry="1.3" fill="#ffffff"/><ellipse cx="59.2" cy="352.7" rx="1.2" ry="0.9" fill="#cfe2f2"/><ellipse cx="155.7" cy="366.6" rx="1.4" ry="1.0" fill="#ffffff"/><ellipse cx="151.2" cy="423.1" rx="1.4" ry="1.0" fill="#ffffff"/>
<ellipse cx="225" cy="376" rx="4.5" ry="4.5" fill="#fff"/>
<path d="M209,365 L198,365.5 L186,367 L180,371.5 L175,378.5 L184,382 L188,388 L193,387 L197,381 L201,375 L206,369.5 Z" fill="#dce8f3" filter="url(#blB2)"/>
</g></g>
<text x="482.9" y="139.70000000000002" font-size="6.6" text-anchor="middle" fill="#222" stroke="#222" stroke-width="0.145" >Megakaryocyte/</text>
<text x="482.9" y="147.3" font-size="6.6" text-anchor="middle" fill="#222" stroke="#222" stroke-width="0.145" >Erythrocyte</text>
<rect x="465.0" y="225.8" width="34.2" height="6.8" fill="url(#rdbu)"/>
<text x="467.5" y="240.70000000000002" font-size="6.4" text-anchor="middle" fill="#333" stroke="#333" stroke-width="0.141" >0</text>
<text x="496.4" y="240.70000000000002" font-size="6.4" text-anchor="middle" fill="#333" stroke="#333" stroke-width="0.141" >3</text>
<text x="7.0" y="269.4" font-size="12" text-anchor="start" fill="#111" font-weight="bold" stroke="#111" stroke-width="0.420" >C</text>
<filter id="fzC" x="-5%" y="-5%" width="110%" height="110%">
<feTurbulence type="fractalNoise" baseFrequency="0.35" numOctaves="2" seed="7" result="t"/>
<feDisplacementMap in="SourceGraphic" in2="t" scale="5" xChannelSelector="R" yChannelSelector="G" result="d"/>
<feTurbulence type="fractalNoise" baseFrequency="0.55" numOctaves="1" seed="11" result="n"/>
<feColorMatrix in="n" type="matrix" values="0 0 0 0 1  0 0 0 0 1  0 0 0 0 1  0 0 0 13 -9.4" result="wn"/>
<feComposite in="wn" in2="d" operator="in" result="wm"/>
<feMerge result="m"><feMergeNode in="d"/><feMergeNode in="wm"/></feMerge>
<feGaussianBlur in="m" stdDeviation="0.3"/>
</filter>
<g filter="url(#fzC)">
<path d="M48.5,350 C48.5,346.5 51,345.3 56,344.6 L80,342 L104.6,339.2 L106,349 L90,352 L74,353 C71.5,357 71,361.5 70.5,365.5 L66.2,369.6 L60,366 L55.4,360.4 L50,355 Z" fill="#19a5c8" fill-rule="evenodd"/>
<path d="M100,339 L109,332 L119,329 L132,333 L147,335 L160,335 L163,346 L155,355 L140,357 L120,356 L104,352 Z" fill="#c87dc4" fill-rule="evenodd"/>
<path d="M104,352 L125,354 L142,355 L147,365 L144,380 L135,393 L118,395 L104,393 L100,384 L102,372 L105,362 Z" fill="#1e9c4a" fill-rule="evenodd"/>
<path d="M143,336 L158,326 L166,320 L176,318 L184,325 L180,336 L160,343 L147,346 Z" fill="#f7c6dc" fill-rule="evenodd"/>
<path d="M148,342 L160,333 L175,331 L186,331 L192,336 L200,343 L208,350 L210,357 L200,364 L186,362 L176,368 L160,371 L150,366 L145,352 Z" fill="#f2766b" fill-rule="evenodd"/>
<path d="M138,360 L152,352 L166,358 L170,372 L165,385 L156,394 L146,398 L136,396 L140,380 Z" fill="#ee7a22" fill-rule="evenodd"/>
<path d="M163,322 L166,314 L175,309 L182,306 L185,300 L190,298 L193,305 L191,318 L188,326 L176,326 Z" fill="#8d88c7" fill-rule="evenodd"/>
<path d="M176,285 L182,281 L188,285 L193,282 L198,287 L196,295 L191,299 L188,302 L183,294 L178,291 Z" fill="#e8201c" fill-rule="evenodd"/>
<path d="M158,362 L175,357 L192,357 L192,368 L175,372 L158,371 Z" fill="#7fc47f" fill-rule="evenodd"/>
<path d="M191,360 L200,355 L213,357 L230,353 L237,357 L234,364 L236,378 L234,386 L226,385 L214,379 L209,381 L206,378 L209,370 L200,366 L191,366 Z M216,373 L225,371.5 L231,376 L228,382 L219,380.5 Z" fill="#1a90d5" fill-rule="evenodd"/>
<path d="M226,354.5 L235,354.5 L236.5,359 L229,360.5 Z" fill="#e6608c" fill-rule="evenodd"/>
<path d="M180,371 L196,369 L198,378 L190,386 L180,387 Z" fill="#f3e08c" fill-rule="evenodd"/>
<path d="M147,382 L163,375 L178,376 L183,386 L177,400 L165,410 L155,415 L150,405 L146,395 Z" fill="#8fc43c" fill-rule="evenodd"/>
<path d="M100,395 L114,391 L127,392 L126,405 L120,421 L107,414 Z" fill="#b8a015" fill-rule="evenodd"/>
<path d="M126,393 L140,392 L150,398 L158,407 L160,415 L154,423 L128,425 L125,410 Z" fill="#f8d21a" fill-rule="evenodd"/>
<path d="M128,425 L140,422 L154,423 L153,432 L149,438 L145,446 L132,447 L120,443 L122,432 Z" fill="#2ea64a" fill-rule="evenodd"/>
<path d="M220,414 L226,410.5 L232,411 L234.5,415 L232,420.5 L226,422 L221,419.5 Z" fill="#e98c15" fill-rule="evenodd"/>
<path d="M123,368 L129,364 L134,366 L138,361 L143,369 L140,375 L142,384 L135,387 L130,390 L126,383 L121,380 L124,374 Z" fill="#ffffff" opacity="0.85"/>
<path d="M141,338 L157,335 L161,349 L150,356 L141,351 Z" fill="#fbe4ee" opacity="0.8"/>
<path d="M158,380 L170,377 L175,390 L165,397 L158,390 Z" fill="#ffffff" opacity="0.45"/>
</g>
<rect x="154.60000000000002" y="293.3" width="47.00" height="8.10" fill="#e8221c" rx="0.8" stroke="#a21713" stroke-width="0.6"/>
<text x="178.10" y="299.85" font-size="7.1" text-anchor="middle" fill="#3a0a0a" stroke="#3a0a0a" stroke-width="0.160" >Early B cell</text>
<rect x="155.9" y="319.3" width="41.10" height="8.10" fill="#8d88c7" rx="0.8" stroke="#625f8b" stroke-width="0.6"/>
<text x="176.45" y="325.85" font-size="7.1" text-anchor="middle" fill="#1a1540" stroke="#1a1540" stroke-width="0.160" >Lymphoid</text>
<rect x="86.5" y="329.8" width="56.20" height="8.10" fill="#c87dc4" rx="0.8" stroke="#8c5789" stroke-width="0.6"/>
<text x="114.60" y="336.35" font-size="7.1" text-anchor="middle" fill="#3a1038" stroke="#3a1038" stroke-width="0.160" >Promyelocyte</text>
<rect x="154.3" y="330.90000000000003" width="23.30" height="7.55" fill="#f9d2e4" rx="0.8" stroke="#ae939f" stroke-width="0.6"/>
<text x="165.95" y="337.18" font-size="7.1" text-anchor="middle" fill="#3a1a22" stroke="#3a1a22" stroke-width="0.160" >MPP2</text>
<rect x="68.89999999999999" y="347.3" width="47.00" height="7.20" fill="#19a5c8" rx="0.8" stroke="#11738c" stroke-width="0.6"/>
<text x="92.40" y="353.40" font-size="7.1" text-anchor="middle" fill="#0a2a38" stroke="#0a2a38" stroke-width="0.160" >Granulocyte</text>
<rect x="156.55" y="345.8" width="18.65" height="7.55" fill="#f2766b" rx="0.8" stroke="#a9524a" stroke-width="0.6"/>
<text x="165.88" y="352.07" font-size="7.1" text-anchor="middle" fill="#3a0f0a" stroke="#3a0f0a" stroke-width="0.160" >MPP</text>
<rect x="207.3" y="346.7" width="36.00" height="8.30" fill="#e6608c" rx="0.8" stroke="#a14362" stroke-width="0.6"/>
<text x="225.30" y="353.35" font-size="7.1" text-anchor="middle" fill="#3a0a1c" stroke="#3a0a1c" stroke-width="0.160" >Basophil</text>
<rect x="85.7" y="359.5" width="53.20" height="7.20" fill="#1e9c4a" rx="0.8" stroke="#156d33" stroke-width="0.6"/>
<text x="112.30" y="365.60" font-size="7.1" text-anchor="middle" fill="#062a12" stroke="#062a12" stroke-width="0.160" >ProMonocyte</text>
<rect x="166.60000000000002" y="361.2" width="22.50" height="7.10" fill="#7fc47f" rx="0.8" stroke="#588958" stroke-width="0.6"/>
<text x="177.85" y="367.25" font-size="7.1" text-anchor="middle" fill="#0f3010" stroke="#0f3010" stroke-width="0.160" >MPP3</text>
<rect x="208.60000000000002" y="361.90000000000003" width="34.70" height="8.00" fill="#1a90d5" rx="0.8" stroke="#126495" stroke-width="0.6"/>
<text x="225.95" y="368.40" font-size="7.1" text-anchor="middle" fill="#06223a" stroke="#06223a" stroke-width="0.160" >Meg-Ery</text>
<rect x="178.20000000000002" y="372.7" width="19.10" height="7.50" fill="#f8eab0" rx="0.8" stroke="#ada37b" stroke-width="0.6"/>
<text x="187.75" y="378.95" font-size="7.1" text-anchor="middle" fill="#3a3010" stroke="#3a3010" stroke-width="0.160" >pDC</text>
<rect x="93.3" y="383.3" width="58.70" height="7.60" fill="#e8671c" rx="0.8" stroke="#a24813" stroke-width="0.6"/>
<text x="122.65" y="389.60" font-size="7.1" text-anchor="middle" fill="#3a1204" stroke="#3a1204" stroke-width="0.160" >ProMonocyte2</text>
<rect x="156.3" y="390.5" width="23.60" height="6.50" fill="#8fc43c" rx="0.8" stroke="#64892a" stroke-width="0.6"/>
<text x="168.10" y="396.25" font-size="7.1" text-anchor="middle" fill="#1a3008" stroke="#1a3008" stroke-width="0.160" >cDC2</text>
<rect x="78.39999999999999" y="404.3" width="40.90" height="18.90" fill="#bca214" rx="0.8" stroke="#83710e" stroke-width="0.6"/>
<text x="98.85" y="412.00" font-size="7.1" text-anchor="middle" fill="#2a2404" stroke="#2a2404" stroke-width="0.160" >Early</text>
<text x="98.85" y="420.30" font-size="7.1" text-anchor="middle" fill="#2a2404" stroke="#2a2404" stroke-width="0.160" >Monocyte</text>
<rect x="129.10000000000002" y="404.0" width="40.20" height="18.60" fill="#f8d21a" rx="0.8" stroke="#ad9312" stroke-width="0.6"/>
<text x="149.20" y="411.70" font-size="7.1" text-anchor="middle" fill="#3a3004" stroke="#3a3004" stroke-width="0.160" >Late</text>
<text x="149.20" y="420.00" font-size="7.1" text-anchor="middle" fill="#3a3004" stroke="#3a3004" stroke-width="0.160" >Monocyte</text>
<rect x="224.60000000000002" y="406.1" width="18.70" height="7.90" fill="#e98c15" rx="0.8" stroke="#a3620e" stroke-width="0.6"/>
<text x="233.95" y="412.55" font-size="7.1" text-anchor="middle" fill="#3a1e04" stroke="#3a1e04" stroke-width="0.160" >HSC</text>
<rect x="112.3" y="433.8" width="50.90" height="7.40" fill="#2ea64a" rx="0.8" stroke="#207433" stroke-width="0.6"/>
<text x="137.75" y="440.00" font-size="7.1" text-anchor="middle" fill="#062a10" stroke="#062a10" stroke-width="0.160" >Macrophage</text>
<path d="M41.5,276.2 L41.5,452.5 L245,452.5" fill="none" stroke="#1a1a1a" stroke-width="1.1"/>
<line x1="38.5" y1="301.9" x2="41.5" y2="301.9" stroke="#222" stroke-width="0.9"/>
<text x="35.5" y="304.29999999999995" font-size="6.6" text-anchor="end" fill="#444" stroke="#444" stroke-width="0.145" >10</text>
<line x1="38.5" y1="335.3" x2="41.5" y2="335.3" stroke="#222" stroke-width="0.9"/>
<text x="35.5" y="337.7" font-size="6.6" text-anchor="end" fill="#444" stroke="#444" stroke-width="0.145" >5</text>
<line x1="38.5" y1="368.3" x2="41.5" y2="368.3" stroke="#222" stroke-width="0.9"/>
<text x="35.5" y="370.7" font-size="6.6" text-anchor="end" fill="#444" stroke="#444" stroke-width="0.145" >0</text>
<line x1="38.5" y1="401.6" x2="41.5" y2="401.6" stroke="#222" stroke-width="0.9"/>
<text x="35.5" y="404.0" font-size="6.6" text-anchor="end" fill="#444" stroke="#444" stroke-width="0.145" >−5</text>
<line x1="38.5" y1="434.2" x2="41.5" y2="434.2" stroke="#222" stroke-width="0.9"/>
<text x="35.5" y="436.59999999999997" font-size="6.6" text-anchor="end" fill="#444" stroke="#444" stroke-width="0.145" >−10</text>
<line x1="67.4" y1="452.5" x2="67.4" y2="455.5" stroke="#222" stroke-width="0.9"/>
<text x="67.4" y="465.6" font-size="6.6" text-anchor="middle" fill="#444" stroke="#444" stroke-width="0.145" >−10</text>
<line x1="107.4" y1="452.5" x2="107.4" y2="455.5" stroke="#222" stroke-width="0.9"/>
<text x="107.4" y="465.6" font-size="6.6" text-anchor="middle" fill="#444" stroke="#444" stroke-width="0.145" >−5</text>
<line x1="147.4" y1="452.5" x2="147.4" y2="455.5" stroke="#222" stroke-width="0.9"/>
<text x="147.4" y="465.6" font-size="6.6" text-anchor="middle" fill="#444" stroke="#444" stroke-width="0.145" >0</text>
<line x1="187.4" y1="452.5" x2="187.4" y2="455.5" stroke="#222" stroke-width="0.9"/>
<text x="187.4" y="465.6" font-size="6.6" text-anchor="middle" fill="#444" stroke="#444" stroke-width="0.145" >5</text>
<line x1="227.4" y1="452.5" x2="227.4" y2="455.5" stroke="#222" stroke-width="0.9"/>
<text x="227.4" y="465.6" font-size="6.6" text-anchor="middle" fill="#444" stroke="#444" stroke-width="0.145" >10</text>
<text x="143" y="480.4" font-size="9.4" text-anchor="middle" fill="#222" stroke="#222" stroke-width="0.207" textLength="24" lengthAdjust="spacingAndGlyphs" >UMAP_1</text>
<text x="16.6" y="364.7" font-size="9.4" text-anchor="middle" fill="#222" stroke="#222" stroke-width="0.207" textLength="25" lengthAdjust="spacingAndGlyphs" transform="rotate(-90 16.6 364.7)">UMAP_2</text>
<filter id="fzD" x="-5%" y="-5%" width="110%" height="110%">
<feTurbulence type="fractalNoise" baseFrequency="0.45" numOctaves="2" seed="3" result="t"/>
<feDisplacementMap in="SourceGraphic" in2="t" scale="4" xChannelSelector="R" yChannelSelector="G" result="d"/>
<feTurbulence type="fractalNoise" baseFrequency="0.6" numOctaves="1" seed="5" result="n"/>
<feColorMatrix in="n" type="matrix" values="0 0 0 0 1  0 0 0 0 1  0 0 0 0 1  0 0 0 9 -5.5" result="wn"/>
<feComposite in="wn" in2="d" operator="in" result="wm"/>
<feMerge result="m"><feMergeNode in="d"/><feMergeNode in="wm"/></feMerge>
<feGaussianBlur in="m" stdDeviation="0.3"/>
</filter>
<text x="257" y="269" font-size="12" text-anchor="start" fill="#111" font-weight="bold" stroke="#111" stroke-width="0.420" >D</text>
<rect x="269.5" y="278.5" width="117" height="81" fill="#fff" stroke="#333" stroke-width="1.1"/>
<text x="327.8" y="273.6" font-size="8.3" text-anchor="middle" fill="#222" stroke="#222" stroke-width="0.120" >Day 7</text>
<g filter="url(#fzD)">
<path d="M328,305 L338,303.5 L346,303 L352,306 L346,309.5 L334,311 L328,310 Z" fill="#f5bfd6" stroke="#f5bfd6" stroke-width="0.8" stroke-linejoin="round"/>
<path d="M327,311 L336,309 L345,306.4 L351.4,306.4 L357,309 L362,313 L362,316 L350.4,315.5 L336,318.5 L328,317 Z" fill="#f2766b" stroke="#f2766b" stroke-width="0.8" stroke-linejoin="round"/>
<path d="M306,305.5 L312,303 L320,303.5 L327,305 L329,309 L322,311.5 L313,311.5 L307,309.5 Z" fill="#c87dc4" stroke="#c87dc4" stroke-width="0.8" stroke-linejoin="round"/>
<path d="M312,311 L320,310.5 L325,312 L326,318 L324,324 L318,328 L313,331 L306,330 L302,327 L305,321 L310,316 Z" fill="#1e9c4a" stroke="#1e9c4a" stroke-width="0.8" stroke-linejoin="round"/>
<path d="M302,331 L308,328.5 L313,331 L314,337 L315,342 L309,343.5 L303,341 L301,335 Z" fill="#b8a015" stroke="#b8a015" stroke-width="0.8" stroke-linejoin="round"/>
<path d="M325,319.5 L338,319 L350,319.5 L350,322.5 L338,323.2 L326,323 Z" fill="#8cc88c" stroke="#8cc88c" stroke-width="0.8" stroke-linejoin="round"/>
<path d="M336,325 L340,324 L343,327 L344,333 L340,337 L335,336 L333,332 Z" fill="#8fc43c" stroke="#8fc43c" stroke-width="0.8" stroke-linejoin="round"/>
<path d="M361,316 L365,316.5 L374.5,318 L378.3,320.8 L381.2,324.7 L379.3,329 L374.5,327.6 L370,326 L367.7,326.5 L369,323.5 L364,320 L361,318 Z" fill="#1a90d5" stroke="#1a90d5" stroke-width="0.8" stroke-linejoin="round"/>
<path d="M375.5,314 L380,312.5 L384,313.5 L384,317.5 L379,318.8 L376,318 Z" fill="#e0a018" stroke="#e0a018" stroke-width="0.8" stroke-linejoin="round"/>
</g>
<circle cx="341.5" cy="299.5" r="0.9" fill="#9486c8"/>
<circle cx="344.5" cy="302.3" r="0.9" fill="#9486c8"/>
<circle cx="353.5" cy="301.5" r="1.0" fill="#9486c8"/>
<circle cx="352.8" cy="298.6" r="0.8" fill="#9486c8"/>
<circle cx="347" cy="300" r="0.6" fill="#9486c8"/>
<circle cx="319" cy="348.7" r="0.7" fill="#555555"/>
<circle cx="348" cy="328" r="0.8" fill="#f3e08c"/>
<circle cx="355.5" cy="323" r="0.7" fill="#8cc88c"/>
<circle cx="359" cy="325" r="0.5" fill="#f3e08c"/>
<rect x="396.5" y="278.5" width="117" height="81" fill="#fff" stroke="#333" stroke-width="1.1"/>
<text x="454.8" y="273.6" font-size="8.3" text-anchor="middle" fill="#222" stroke="#222" stroke-width="0.120" >Day 14</text>
<g filter="url(#fzD)">
<path d="M401.5,309.5 L406,308 L420,307 L433,305.5 L434,310.5 L422,312 L411,312.8 L409.5,316 L404,316.5 L401,313 Z" fill="#19a5c8" stroke="#19a5c8" stroke-width="0.8" stroke-linejoin="round"/>
<path d="M432,305 L436,303.7 L441.8,303 L446.5,304.8 L452,306 L458,307.7 L457,312 L449,314 L440,314.6 L433,313.5 Z" fill="#c87dc4" stroke="#c87dc4" stroke-width="0.8" stroke-linejoin="round"/>
<path d="M467,298.5 L473,296 L481,295.5 L484.5,297.5 L482.5,302.6 L474,303.5 L468,302.8 Z" fill="#9486c8" stroke="#9486c8" stroke-width="0.8" stroke-linejoin="round"/>
<path d="M458,305 L466,302.6 L476,302.8 L478.5,306.5 L470,309.5 L460,311 Z" fill="#f5bfd6" stroke="#f5bfd6" stroke-width="0.8" stroke-linejoin="round"/>
<path d="M449,317 L458,312 L470,309.5 L481,308 L489,310 L489.5,314.5 L479,317 L466,320 L452,322 Z" fill="#f2766b" stroke="#f2766b" stroke-width="0.8" stroke-linejoin="round"/>
<path d="M432,314.5 L440,313.5 L447.6,315 L447,322 L445,330 L438,332 L432,329 L431.5,321 Z" fill="#1e9c4a" stroke="#1e9c4a" stroke-width="0.8" stroke-linejoin="round"/>
<path d="M433,331.5 L440,330.8 L446.5,333 L445,340 L440,344.6 L434,342 Z" fill="#b8a015" stroke="#b8a015" stroke-width="0.8" stroke-linejoin="round"/>
<path d="M488.2,316.5 L495,317.2 L502.5,318 L506,322 L508.4,327 L501.3,327.7 L497,326.5 L493,326 L491,323 L488.2,319.5 Z" fill="#1a90d5" stroke="#1a90d5" stroke-width="0.8" stroke-linejoin="round"/>
<path d="M503.7,315 L506,313.4 L509.6,314.5 L509,317.6 L505,317.6 Z" fill="#e0a018" stroke="#e0a018" stroke-width="0.8" stroke-linejoin="round"/>
<path d="M461,328 L466,326.5 L472,328 L474.4,333 L470,337.2 L463,336.5 L460,332 Z" fill="#8fc43c" stroke="#8fc43c" stroke-width="0.8" stroke-linejoin="round"/>
<path d="M473.8,326 L478,324.7 L481,327 L479,330.7 L474.5,330 Z" fill="#f3e08c" stroke="#f3e08c" stroke-width="0.8" stroke-linejoin="round"/>
<path d="M467.9,319.5 L488.2,319.5 L488,322.5 L468,322.9 Z" fill="#8cc88c" stroke="#8cc88c" stroke-width="0.8" stroke-linejoin="round"/>
</g>
<circle cx="482.2" cy="284.5" r="0.8" fill="#9486c8"/>
<circle cx="479.8" cy="289.5" r="0.8" fill="#9486c8"/>
<circle cx="449.5" cy="350" r="0.8" fill="#2ea64a"/>
<circle cx="453" cy="352.8" r="0.8" fill="#2ea64a"/>
<circle cx="410" cy="317" r="0.9" fill="#19a5c8"/>
<circle cx="412.5" cy="319.5" r="0.8" fill="#19a5c8"/>
<circle cx="411" cy="320.5" r="0.6" fill="#555555"/>
<circle cx="455" cy="340.5" r="0.7" fill="#b8a015"/>
<circle cx="458.5" cy="341.5" r="0.6" fill="#b8a015"/>
<rect x="269.5" y="382.5" width="117" height="81" fill="#fff" stroke="#333" stroke-width="1.1"/>
<text x="327.8" y="377.6" font-size="8.3" text-anchor="middle" fill="#222" stroke="#222" stroke-width="0.120" >Day 21</text>
<g filter="url(#fzD)">
<path d="M273.5,414 L278,411.5 L287,411 L300,410 L307,409.5 L307.5,413.5 L295,414.5 L287,415 L285.5,419 L284.5,424.6 L279,424 L276,421 L273.2,417 Z" fill="#19a5c8" stroke="#19a5c8" stroke-width="0.8" stroke-linejoin="round"/>
<path d="M307,408.5 L313,407 L320,409 L329,411 L328,416.6 L318,416.6 L308,414 Z" fill="#c87dc4" stroke="#c87dc4" stroke-width="0.8" stroke-linejoin="round"/>
<path d="M347.8,387 L350,386.2 L352.5,390 L355,388.5 L357,386.8 L359.5,387.5 L357,392 L354,394.5 L351,393 Z" fill="#e8201c" stroke="#e8201c" stroke-width="0.8" stroke-linejoin="round"/>
<path d="M340,404 L345,399 L351,396.5 L357.5,394 L358,401 L355,408 L347,408.5 L341,407 Z" fill="#9486c8" stroke="#9486c8" stroke-width="0.8" stroke-linejoin="round"/>
<path d="M333,409 L340,408.3 L345.7,409 L344,413.8 L335,413.8 Z" fill="#f5bfd6" stroke="#f5bfd6" stroke-width="0.8" stroke-linejoin="round"/>
<path d="M328,414 L340,411 L350,411.5 L358.2,414 L357,420 L350,423.5 L338,423 L329,420 Z" fill="#f2766b" stroke="#f2766b" stroke-width="0.8" stroke-linejoin="round"/>
<path d="M321,421 L330,419.4 L340.2,421 L339,430 L332,434.6 L322,434 L320.8,428 Z" fill="#f0821e" stroke="#f0821e" stroke-width="0.8" stroke-linejoin="round"/>
<path d="M320.5,436 L325,434.6 L329.8,436 L329.5,443 L326,447 L321,446 L320,441 Z" fill="#f8d21a" stroke="#f8d21a" stroke-width="0.8" stroke-linejoin="round"/>
<path d="M329,433 L337,431.8 L347,433 L345,440 L338,446 L330,447 L328.5,440 Z" fill="#8fc43c" stroke="#8fc43c" stroke-width="0.8" stroke-linejoin="round"/>
<path d="M346,429 L351,427.7 L354,431 L352,436 L346,435 Z" fill="#f3e08c" stroke="#f3e08c" stroke-width="0.8" stroke-linejoin="round"/>
<path d="M321,449 L327,447 L333.2,448.5 L332,454 L327,459.5 L320,459.5 L319.4,454 Z" fill="#2ea64a" stroke="#2ea64a" stroke-width="0.8" stroke-linejoin="round"/>
<path d="M355.4,419.4 L360,420 L365,422 L364.5,423.5 L359,422.5 L355.4,421 Z" fill="#1a90d5" stroke="#1a90d5" stroke-width="0.8" stroke-linejoin="round"/>
</g>
<circle cx="367.8" cy="428.4" r="0.8" fill="#1a90d5"/>
<circle cx="377.5" cy="419.5" r="0.9" fill="#e0a018"/>
<circle cx="375.5" cy="419.6" r="0.6" fill="#e0a018"/>
<circle cx="363.5" cy="427.5" r="0.6" fill="#8cc88c"/>
<circle cx="334" cy="425" r="0.9" fill="#ffffff"/>
<circle cx="338" cy="428" r="0.8" fill="#ffffff"/>
<rect x="396.5" y="382.5" width="117" height="81" fill="#fff" stroke="#333" stroke-width="1.1"/>
<text x="454.8" y="377.6" font-size="8.3" text-anchor="middle" fill="#222" stroke="#222" stroke-width="0.120" >Day 28</text>
<g filter="url(#fzD)">
<path d="M399.5,414 L404,412 L413,411.5 L425,410.8 L433,410.5 L433.5,414 L421,415 L413,415.5 L411.5,419.5 L410.5,424.6 L405,424 L402,421 L399.3,417 Z" fill="#19a5c8" stroke="#19a5c8" stroke-width="0.8" stroke-linejoin="round"/>
<path d="M433.5,409.5 L439,408.3 L446,411 L445,416.6 L438,416.6 L434,414 Z" fill="#c87dc4" stroke="#c87dc4" stroke-width="0.8" stroke-linejoin="round"/>
<path d="M473.6,386 L478,384 L482,386 L487,385 L486.5,390 L482,393 L480,395.4 L477,393 L474,390 Z" fill="#e8201c" stroke="#e8201c" stroke-width="0.8" stroke-linejoin="round"/>
<path d="M468,401 L472,398 L478,396 L484,395.4 L483,401 L477,405.5 L470,406.6 L468,404.5 Z" fill="#9486c8" stroke="#9486c8" stroke-width="0.8" stroke-linejoin="round"/>
<path d="M449,418 L458,415.5 L468,415.2 L478,415.5 L484.8,418 L481,424 L470,426.3 L458,426 L450,424 Z" fill="#f2766b" stroke="#f2766b" stroke-width="0.8" stroke-linejoin="round"/>
<path d="M452,412 L460,411 L466,412 L462,415 L455,415.2 Z" fill="#f5bfd6" stroke="#f5bfd6" stroke-width="0.8" stroke-linejoin="round"/>
<path d="M449.5,425 L458,422.2 L466.8,424 L465,431 L458,434.6 L450,434 L448.8,430 Z" fill="#f0821e" stroke="#f0821e" stroke-width="0.8" stroke-linejoin="round"/>
<path d="M448,435 L453,433.2 L455.7,436 L455.5,444 L451,447 L447.4,443 Z" fill="#f8d21a" stroke="#f8d21a" stroke-width="0.8" stroke-linejoin="round"/>
<path d="M455,434 L463,430.5 L472.3,433 L470,440 L463,446 L456,447 L454.3,441 Z" fill="#8fc43c" stroke="#8fc43c" stroke-width="0.8" stroke-linejoin="round"/>
<path d="M473.7,427.5 L480,426.3 L482,430 L478,433.2 L474,432.5 Z" fill="#f3e08c" stroke="#f3e08c" stroke-width="0.8" stroke-linejoin="round"/>
<path d="M447,450 L454,447.5 L461.2,448.5 L460.5,454 L455,459 L447,459.5 L446,455 Z" fill="#2ea64a" stroke="#2ea64a" stroke-width="0.8" stroke-linejoin="round"/>
<path d="M483.4,420.8 L488,421 L491.7,422 L491.5,423.5 L487,423.2 L483.4,422.5 Z" fill="#1a90d5" stroke="#1a90d5" stroke-width="0.8" stroke-linejoin="round"/>
</g>
<circle cx="505" cy="418" r="1.1" fill="#e0a018"/>
<circle cx="503" cy="418.8" r="0.7" fill="#e0a018"/>
<circle cx="453" cy="412" r="0.7" fill="#f2766b"/>
<circle cx="458" cy="410.5" r="0.6" fill="#f2766b"/>
<circle cx="460" cy="428" r="1.0" fill="#ffffff"/>
<circle cx="456" cy="438" r="0.9" fill="#ffffff"/>
<circle cx="464" cy="440" r="0.8" fill="#ffffff"/>
<text x="7.4" y="493.6" font-size="12" text-anchor="start" fill="#111" font-weight="bold" stroke="#111" stroke-width="0.420" >E</text>
<rect x="86.60" y="499.20" width="54.59" height="9.45" fill="#f06a5f"/>
<rect x="141.19" y="499.20" width="33.51" height="9.45" fill="#72b62b"/>
<rect x="174.70" y="499.20" width="13.51" height="9.45" fill="#16a3b0"/>
<rect x="188.21" y="499.20" width="6.49" height="9.45" fill="#b079c4"/>
<line x1="77.8" y1="503.93" x2="80.8" y2="503.93" stroke="#222" stroke-width="0.8"/>
<text x="75.4" y="506.12" font-size="6.3" text-anchor="end" fill="#333" stroke="#333" stroke-width="0.139" >Promyelocyte</text>
<rect x="86.60" y="510.45" width="31.35" height="9.45" fill="#f06a5f"/>
<rect x="117.95" y="510.45" width="28.11" height="9.45" fill="#72b62b"/>
<rect x="146.06" y="510.45" width="28.65" height="9.45" fill="#16a3b0"/>
<rect x="174.70" y="510.45" width="20.00" height="9.45" fill="#b079c4"/>
<line x1="77.8" y1="515.17" x2="80.8" y2="515.17" stroke="#222" stroke-width="0.8"/>
<text x="75.4" y="517.38" font-size="6.3" text-anchor="end" fill="#333" stroke="#333" stroke-width="0.139" >MPP</text>
<rect x="86.60" y="521.70" width="49.73" height="9.45" fill="#f06a5f"/>
<rect x="136.33" y="521.70" width="51.89" height="9.45" fill="#72b62b"/>
<rect x="188.21" y="521.70" width="3.78" height="9.45" fill="#16a3b0"/>
<rect x="192.00" y="521.70" width="2.70" height="9.45" fill="#b079c4"/>
<line x1="77.8" y1="526.43" x2="80.8" y2="526.43" stroke="#222" stroke-width="0.8"/>
<text x="75.4" y="528.63" font-size="6.3" text-anchor="end" fill="#333" stroke="#333" stroke-width="0.139" >Meg-Ery</text>
<rect x="86.60" y="532.95" width="55.13" height="9.45" fill="#f06a5f"/>
<rect x="141.73" y="532.95" width="52.97" height="9.45" fill="#72b62b"/>
<line x1="77.8" y1="537.68" x2="80.8" y2="537.68" stroke="#222" stroke-width="0.8"/>
<text x="75.4" y="539.88" font-size="6.3" text-anchor="end" fill="#333" stroke="#333" stroke-width="0.139" >Early Monocyte</text>
<rect x="86.60" y="544.20" width="83.24" height="9.45" fill="#f06a5f"/>
<rect x="169.84" y="544.20" width="23.78" height="9.45" fill="#72b62b"/>
<rect x="193.62" y="544.20" width="0.86" height="9.45" fill="#16a3b0"/>
<rect x="194.48" y="544.20" width="0.22" height="9.45" fill="#b079c4"/>
<line x1="77.8" y1="548.93" x2="80.8" y2="548.93" stroke="#222" stroke-width="0.8"/>
<text x="75.4" y="551.13" font-size="6.3" text-anchor="end" fill="#333" stroke="#333" stroke-width="0.139" >ProMonocyte</text>
<rect x="86.60" y="555.45" width="63.78" height="9.45" fill="#f06a5f"/>
<rect x="150.38" y="555.45" width="28.11" height="9.45" fill="#72b62b"/>
<rect x="178.48" y="555.45" width="14.59" height="9.45" fill="#16a3b0"/>
<rect x="193.08" y="555.45" width="1.62" height="9.45" fill="#b079c4"/>
<line x1="77.8" y1="560.18" x2="80.8" y2="560.18" stroke="#222" stroke-width="0.8"/>
<text x="75.4" y="562.38" font-size="6.3" text-anchor="end" fill="#333" stroke="#333" stroke-width="0.139" >MPP2</text>
<rect x="86.60" y="566.70" width="11.46" height="9.45" fill="#f06a5f"/>
<rect x="98.06" y="566.70" width="30.05" height="9.45" fill="#72b62b"/>
<rect x="128.11" y="566.70" width="40.32" height="9.45" fill="#16a3b0"/>
<rect x="168.43" y="566.70" width="26.27" height="9.45" fill="#b079c4"/>
<line x1="77.8" y1="571.43" x2="80.8" y2="571.43" stroke="#222" stroke-width="0.8"/>
<text x="75.4" y="573.63" font-size="6.3" text-anchor="end" fill="#333" stroke="#333" stroke-width="0.139" >cDC2</text>
<rect x="86.60" y="577.95" width="0.54" height="9.45" fill="#f06a5f"/>
<rect x="87.14" y="577.95" width="27.57" height="9.45" fill="#72b62b"/>
<rect x="114.71" y="577.95" width="55.13" height="9.45" fill="#16a3b0"/>
<rect x="169.84" y="577.95" width="24.86" height="9.45" fill="#b079c4"/>
<line x1="77.8" y1="582.68" x2="80.8" y2="582.68" stroke="#222" stroke-width="0.8"/>
<text x="75.4" y="584.88" font-size="6.3" text-anchor="end" fill="#333" stroke="#333" stroke-width="0.139" >Lymphoid</text>
<rect x="86.60" y="589.20" width="25.30" height="9.45" fill="#72b62b"/>
<rect x="111.90" y="589.20" width="39.56" height="9.45" fill="#16a3b0"/>
<rect x="151.46" y="589.20" width="43.24" height="9.45" fill="#b079c4"/>
<line x1="77.8" y1="593.93" x2="80.8" y2="593.93" stroke="#222" stroke-width="0.8"/>
<text x="75.4" y="596.13" font-size="6.3" text-anchor="end" fill="#333" stroke="#333" stroke-width="0.139" >Granulocyte</text>
<rect x="86.60" y="600.45" width="50.81" height="9.45" fill="#f06a5f"/>
<rect x="137.41" y="600.45" width="33.51" height="9.45" fill="#72b62b"/>
<rect x="170.92" y="600.45" width="7.03" height="9.45" fill="#16a3b0"/>
<rect x="177.94" y="600.45" width="16.76" height="9.45" fill="#b079c4"/>
<line x1="77.8" y1="605.18" x2="80.8" y2="605.18" stroke="#222" stroke-width="0.8"/>
<text x="75.4" y="607.38" font-size="6.3" text-anchor="end" fill="#333" stroke="#333" stroke-width="0.139" >MPP3</text>
<rect x="86.60" y="611.70" width="35.67" height="9.45" fill="#72b62b"/>
<rect x="122.27" y="611.70" width="57.83" height="9.45" fill="#16a3b0"/>
<rect x="180.11" y="611.70" width="14.59" height="9.45" fill="#b079c4"/>
<line x1="77.8" y1="616.43" x2="80.8" y2="616.43" stroke="#222" stroke-width="0.8"/>
<text x="75.4" y="618.63" font-size="6.3" text-anchor="end" fill="#333" stroke="#333" stroke-width="0.139" >pDC</text>
<rect x="86.60" y="622.95" width="43.24" height="9.45" fill="#f06a5f"/>
<rect x="129.84" y="622.95" width="60.54" height="9.45" fill="#72b62b"/>
<rect x="190.38" y="622.95" width="2.16" height="9.45" fill="#16a3b0"/>
<rect x="192.54" y="622.95" width="2.16" height="9.45" fill="#b079c4"/>
<line x1="77.8" y1="627.68" x2="80.8" y2="627.68" stroke="#222" stroke-width="0.8"/>
<text x="75.4" y="629.88" font-size="6.3" text-anchor="end" fill="#333" stroke="#333" stroke-width="0.139" >Basophil</text>
<rect x="86.60" y="634.20" width="4.86" height="9.45" fill="#72b62b"/>
<rect x="91.46" y="634.20" width="40.00" height="9.45" fill="#16a3b0"/>
<rect x="131.46" y="634.20" width="63.24" height="9.45" fill="#b079c4"/>
<line x1="77.8" y1="638.93" x2="80.8" y2="638.93" stroke="#222" stroke-width="0.8"/>
<text x="75.4" y="641.13" font-size="6.3" text-anchor="end" fill="#333" stroke="#333" stroke-width="0.139" >ProMonocyte2</text>
<rect x="86.60" y="645.45" width="2.16" height="9.45" fill="#72b62b"/>
<rect x="88.76" y="645.45" width="23.78" height="9.45" fill="#16a3b0"/>
<rect x="112.54" y="645.45" width="82.16" height="9.45" fill="#b079c4"/>
<line x1="77.8" y1="650.18" x2="80.8" y2="650.18" stroke="#222" stroke-width="0.8"/>
<text x="75.4" y="652.38" font-size="6.3" text-anchor="end" fill="#333" stroke="#333" stroke-width="0.139" >Macrophage</text>
<rect x="86.60" y="656.70" width="11.89" height="9.45" fill="#16a3b0"/>
<rect x="98.49" y="656.70" width="96.21" height="9.45" fill="#b079c4"/>
<line x1="77.8" y1="661.43" x2="80.8" y2="661.43" stroke="#222" stroke-width="0.8"/>
<text x="75.4" y="663.63" font-size="6.3" text-anchor="end" fill="#333" stroke="#333" stroke-width="0.139" >Early B cell</text>
<rect x="86.60" y="667.95" width="49.73" height="9.45" fill="#16a3b0"/>
<rect x="136.33" y="667.95" width="58.37" height="9.45" fill="#b079c4"/>
<line x1="77.8" y1="672.68" x2="80.8" y2="672.68" stroke="#222" stroke-width="0.8"/>
<text x="75.4" y="674.88" font-size="6.3" text-anchor="end" fill="#333" stroke="#333" stroke-width="0.139" >Late Monocyte</text>
<path d="M80.5,497.5 L80.5,680.5 L198,680.5" fill="none" stroke="#1a1a1a" stroke-width="1.1"/>
<line x1="86.60" y1="680.2" x2="86.60" y2="683" stroke="#222" stroke-width="0.8"/>
<text x="86.60" y="691.8" font-size="6.3" text-anchor="middle" fill="#444" stroke="#444" stroke-width="0.139" >0.00</text>
<line x1="113.62" y1="680.2" x2="113.62" y2="683" stroke="#222" stroke-width="0.8"/>
<text x="113.62" y="691.8" font-size="6.3" text-anchor="middle" fill="#444" stroke="#444" stroke-width="0.139" >0.25</text>
<line x1="140.65" y1="680.2" x2="140.65" y2="683" stroke="#222" stroke-width="0.8"/>
<text x="140.65" y="691.8" font-size="6.3" text-anchor="middle" fill="#444" stroke="#444" stroke-width="0.139" >0.50</text>
<line x1="167.67" y1="680.2" x2="167.67" y2="683" stroke="#222" stroke-width="0.8"/>
<text x="167.67" y="691.8" font-size="6.3" text-anchor="middle" fill="#444" stroke="#444" stroke-width="0.139" >0.75</text>
<line x1="194.70" y1="680.2" x2="194.70" y2="683" stroke="#222" stroke-width="0.8"/>
<text x="194.70" y="691.8" font-size="6.3" text-anchor="middle" fill="#444" stroke="#444" stroke-width="0.139" >1.00</text>
<text x="140.4" y="702.4" font-size="8.6" text-anchor="middle" fill="#222" stroke="#222" stroke-width="0.189" textLength="101.5" lengthAdjust="spacingAndGlyphs" >Fraction of cells in the cell population</text>
<text x="28.2" y="588.6" font-size="8.6" text-anchor="middle" fill="#222" stroke="#222" stroke-width="0.189" textLength="37" lengthAdjust="spacingAndGlyphs" transform="rotate(-90 28.2 588.6)">Cluster name</text>
<text x="219.2" y="566" font-size="7" text-anchor="middle" fill="#222" stroke="#222" stroke-width="0.154" textLength="10.6" lengthAdjust="spacingAndGlyphs" >Day</text>
<rect x="208.3" y="570.10" width="11.3" height="11" fill="#f06a5f"/>
<text x="223" y="577.90" font-size="6.5" text-anchor="start" fill="#333" stroke="#333" stroke-width="0.143" >7</text>
<rect x="208.3" y="582.55" width="11.3" height="11" fill="#72b62b"/>
<text x="223" y="590.35" font-size="6.5" text-anchor="start" fill="#333" stroke="#333" stroke-width="0.143" >14</text>
<rect x="208.3" y="595.00" width="11.3" height="11" fill="#16a3b0"/>
<text x="223" y="602.80" font-size="6.5" text-anchor="start" fill="#333" stroke="#333" stroke-width="0.143" >21</text>
<rect x="208.3" y="607.45" width="11.3" height="11" fill="#b079c4"/>
<text x="223" y="615.25" font-size="6.5" text-anchor="start" fill="#333" stroke="#333" stroke-width="0.143" >28</text>
<text x="247.2" y="493.8" font-size="12" text-anchor="start" fill="#111" font-weight="bold" stroke="#111" stroke-width="0.420" >F</text>
<path d="M276.5,502.8 L276.5,569.5 L338,569.5" fill="none" stroke="#1a1a1a" stroke-width="1.1"/>
<line x1="273.6" y1="569.90" x2="276.6" y2="569.90" stroke="#222" stroke-width="0.8"/>
<text x="271.6" y="572.20" font-size="6.6" text-anchor="end" fill="#444" stroke="#444" stroke-width="0.145" >0</text>
<line x1="273.6" y1="548.40" x2="276.6" y2="548.40" stroke="#222" stroke-width="0.8"/>
<text x="271.6" y="550.70" font-size="6.6" text-anchor="end" fill="#444" stroke="#444" stroke-width="0.145" >10</text>
<line x1="273.6" y1="526.90" x2="276.6" y2="526.90" stroke="#222" stroke-width="0.8"/>
<text x="271.6" y="529.20" font-size="6.6" text-anchor="end" fill="#444" stroke="#444" stroke-width="0.145" >20</text>
<line x1="273.6" y1="505.40" x2="276.6" y2="505.40" stroke="#222" stroke-width="0.8"/>
<text x="271.6" y="507.70" font-size="6.6" text-anchor="end" fill="#444" stroke="#444" stroke-width="0.145" >30</text>
<rect x="278.40" y="516.15" width="13.0" height="53.75" fill="#c8102e"/>
<path d="M284.90,518.94 L284.90,512.92 M281.30,518.94 L288.50,518.94 M281.30,512.92 L288.50,512.92" stroke="#222" stroke-width="0.9" fill="none"/>
<line x1="284.90" y1="569.9" x2="284.90" y2="572.90" stroke="#222" stroke-width="0.8"/>
<text x="284.90" y="582.20" font-size="6.4" text-anchor="middle" fill="#333" stroke="#333" stroke-width="0.141" >7</text>
<rect x="293.00" y="521.10" width="13.0" height="48.80" fill="#c8102e"/>
<path d="M299.50,526.90 L299.50,515.07 M295.90,526.90 L303.10,526.90 M295.90,515.07 L303.10,515.07" stroke="#222" stroke-width="0.9" fill="none"/>
<line x1="299.50" y1="569.9" x2="299.50" y2="572.90" stroke="#222" stroke-width="0.8"/>
<text x="299.50" y="582.20" font-size="6.4" text-anchor="middle" fill="#333" stroke="#333" stroke-width="0.141" >14</text>
<rect x="307.80" y="536.36" width="13.0" height="33.54" fill="#c8102e"/>
<path d="M314.30,538.73 L314.30,532.70 M310.70,538.73 L317.90,538.73 M310.70,532.70 L317.90,532.70" stroke="#222" stroke-width="0.9" fill="none"/>
<line x1="314.30" y1="569.9" x2="314.30" y2="572.90" stroke="#222" stroke-width="0.8"/>
<text x="314.30" y="582.20" font-size="6.4" text-anchor="middle" fill="#333" stroke="#333" stroke-width="0.141" >21</text>
<rect x="322.50" y="541.52" width="13.0" height="28.38" fill="#c8102e"/>
<path d="M329.00,542.38 L329.00,539.37 M325.40,542.38 L332.60,542.38 M325.40,539.37 L332.60,539.37" stroke="#222" stroke-width="0.9" fill="none"/>
<line x1="329.00" y1="569.9" x2="329.00" y2="572.90" stroke="#222" stroke-width="0.8"/>
<text x="329.00" y="582.20" font-size="6.4" text-anchor="middle" fill="#333" stroke="#333" stroke-width="0.141" >28</text>
<text x="305.8" y="493.8" font-size="6.7" text-anchor="middle" fill="#333" stroke="#333" stroke-width="0.18">CD34<tspan font-size="4.2" dy="-2.6">+</tspan><tspan dy="2.6">​</tspan> cells</text>
<path d="M362.5,502.8 L362.5,570.5 L424,570.5" fill="none" stroke="#1a1a1a" stroke-width="1.1"/>
<line x1="359.1" y1="570.00" x2="362.1" y2="570.00" stroke="#222" stroke-width="0.8"/>
<text x="357.1" y="572.30" font-size="6.6" text-anchor="end" fill="#444" stroke="#444" stroke-width="0.145" >0</text>
<line x1="359.1" y1="548.54" x2="362.1" y2="548.54" stroke="#222" stroke-width="0.8"/>
<text x="357.1" y="550.84" font-size="6.6" text-anchor="end" fill="#444" stroke="#444" stroke-width="0.145" >10</text>
<line x1="359.1" y1="527.08" x2="362.1" y2="527.08" stroke="#222" stroke-width="0.8"/>
<text x="357.1" y="529.38" font-size="6.6" text-anchor="end" fill="#444" stroke="#444" stroke-width="0.145" >20</text>
<line x1="359.1" y1="505.62" x2="362.1" y2="505.62" stroke="#222" stroke-width="0.8"/>
<text x="357.1" y="507.92" font-size="6.6" text-anchor="end" fill="#444" stroke="#444" stroke-width="0.145" >30</text>
<rect x="363.90" y="518.50" width="13.0" height="51.50" fill="#1a4f8a"/>
<path d="M370.40,522.79 L370.40,513.13 M366.80,522.79 L374.00,522.79 M366.80,513.13 L374.00,513.13" stroke="#222" stroke-width="0.9" fill="none"/>
<line x1="370.40" y1="570" x2="370.40" y2="573.00" stroke="#222" stroke-width="0.8"/>
<text x="370.40" y="582.30" font-size="6.4" text-anchor="middle" fill="#333" stroke="#333" stroke-width="0.141" >7</text>
<rect x="378.50" y="540.39" width="13.0" height="29.61" fill="#1a4f8a"/>
<path d="M385.00,543.17 L385.00,537.38 M381.40,543.17 L388.60,543.17 M381.40,537.38 L388.60,537.38" stroke="#222" stroke-width="0.9" fill="none"/>
<line x1="385.00" y1="570" x2="385.00" y2="573.00" stroke="#222" stroke-width="0.8"/>
<text x="385.00" y="582.30" font-size="6.4" text-anchor="middle" fill="#333" stroke="#333" stroke-width="0.141" >14</text>
<rect x="393.30" y="548.11" width="13.0" height="21.89" fill="#1a4f8a"/>
<path d="M399.80,550.69 L399.80,544.68 M396.20,550.69 L403.40,550.69 M396.20,544.68 L403.40,544.68" stroke="#222" stroke-width="0.9" fill="none"/>
<line x1="399.80" y1="570" x2="399.80" y2="573.00" stroke="#222" stroke-width="0.8"/>
<text x="399.80" y="582.30" font-size="6.4" text-anchor="middle" fill="#333" stroke="#333" stroke-width="0.141" >21</text>
<rect x="408.00" y="550.69" width="13.0" height="19.31" fill="#1a4f8a"/>
<path d="M414.50,551.76 L414.50,549.40 M410.90,551.76 L418.10,551.76 M410.90,549.40 L418.10,549.40" stroke="#222" stroke-width="0.9" fill="none"/>
<line x1="414.50" y1="570" x2="414.50" y2="573.00" stroke="#222" stroke-width="0.8"/>
<text x="414.50" y="582.30" font-size="6.4" text-anchor="middle" fill="#333" stroke="#333" stroke-width="0.141" >28</text>
<text x="392.8" y="489.6" font-size="6.7" text-anchor="middle" fill="#333" stroke="#333" stroke-width="0.18">CD14<tspan font-size="4.2" dy="-2.6">+</tspan><tspan dy="2.6">​</tspan> cells</text>
<text x="392.8" y="497.8" font-size="6.2" text-anchor="middle" fill="#333" stroke="#333" stroke-width="0.136" >(Monocyte)</text>
<path d="M447.5,502.8 L447.5,570.5 L510,570.5" fill="none" stroke="#1a1a1a" stroke-width="1.1"/>
<line x1="444.9" y1="570.10" x2="447.9" y2="570.10" stroke="#222" stroke-width="0.8"/>
<text x="442.9" y="572.40" font-size="6.6" text-anchor="end" fill="#444" stroke="#444" stroke-width="0.145" >0</text>
<line x1="444.9" y1="553.98" x2="447.9" y2="553.98" stroke="#222" stroke-width="0.8"/>
<text x="442.9" y="556.28" font-size="6.6" text-anchor="end" fill="#444" stroke="#444" stroke-width="0.145" >10</text>
<line x1="444.9" y1="537.86" x2="447.9" y2="537.86" stroke="#222" stroke-width="0.8"/>
<text x="442.9" y="540.16" font-size="6.6" text-anchor="end" fill="#444" stroke="#444" stroke-width="0.145" >20</text>
<line x1="444.9" y1="521.74" x2="447.9" y2="521.74" stroke="#222" stroke-width="0.8"/>
<text x="442.9" y="524.04" font-size="6.6" text-anchor="end" fill="#444" stroke="#444" stroke-width="0.145" >30</text>
<line x1="444.9" y1="505.62" x2="447.9" y2="505.62" stroke="#222" stroke-width="0.8"/>
<text x="442.9" y="507.92" font-size="6.6" text-anchor="end" fill="#444" stroke="#444" stroke-width="0.145" >40</text>
<rect x="449.70" y="568.81" width="13.0" height="1.29" fill="#3fa3dc"/>
<path d="M456.20,569.78 L456.20,567.68 M452.60,569.78 L459.80,569.78 M452.60,567.68 L459.80,567.68" stroke="#222" stroke-width="0.9" fill="none"/>
<line x1="456.20" y1="570.1" x2="456.20" y2="573.10" stroke="#222" stroke-width="0.8"/>
<text x="456.20" y="582.40" font-size="6.4" text-anchor="middle" fill="#333" stroke="#333" stroke-width="0.141" >7</text>
<rect x="464.30" y="559.62" width="13.0" height="10.48" fill="#3fa3dc"/>
<path d="M470.80,565.26 L470.80,553.50 M467.20,565.26 L474.40,565.26 M467.20,553.50 L474.40,553.50" stroke="#222" stroke-width="0.9" fill="none"/>
<line x1="470.80" y1="570.1" x2="470.80" y2="573.10" stroke="#222" stroke-width="0.8"/>
<text x="470.80" y="582.40" font-size="6.4" text-anchor="middle" fill="#333" stroke="#333" stroke-width="0.141" >14</text>
<rect x="479.10" y="542.05" width="13.0" height="28.05" fill="#3fa3dc"/>
<path d="M485.60,544.31 L485.60,539.15 M482.00,544.31 L489.20,544.31 M482.00,539.15 L489.20,539.15" stroke="#222" stroke-width="0.9" fill="none"/>
<line x1="485.60" y1="570.1" x2="485.60" y2="573.10" stroke="#222" stroke-width="0.8"/>
<text x="485.60" y="582.40" font-size="6.4" text-anchor="middle" fill="#333" stroke="#333" stroke-width="0.141" >21</text>
<rect x="493.80" y="523.35" width="13.0" height="46.75" fill="#3fa3dc"/>
<path d="M500.30,531.41 L500.30,515.29 M496.70,531.41 L503.90,531.41 M496.70,515.29 L503.90,515.29" stroke="#222" stroke-width="0.9" fill="none"/>
<line x1="500.30" y1="570.1" x2="500.30" y2="573.10" stroke="#222" stroke-width="0.8"/>
<text x="500.30" y="582.40" font-size="6.4" text-anchor="middle" fill="#333" stroke="#333" stroke-width="0.141" >28</text>
<text x="478" y="489.6" font-size="6.7" text-anchor="middle" fill="#333" stroke="#333" stroke-width="0.18">CD66b<tspan font-size="4.2" dy="-2.6">+</tspan><tspan dy="2.6">​</tspan> CD14<tspan font-size="4.2" dy="-2.6">−</tspan><tspan dy="2.6">​</tspan></text>
<text x="478" y="497.8" font-size="6.2" text-anchor="middle" fill="#333" stroke="#333" stroke-width="0.136" >cells (Granulocyte)</text>
<path d="M276.5,610.1 L276.5,678.5 L338.7,678.5" fill="none" stroke="#1a1a1a" stroke-width="1.1"/>
<line x1="273.5" y1="678.70" x2="276.5" y2="678.70" stroke="#222" stroke-width="0.8"/>
<text x="271.5" y="681.00" font-size="6.6" text-anchor="end" fill="#444" stroke="#444" stroke-width="0.145" >0.0</text>
<line x1="273.5" y1="661.20" x2="276.5" y2="661.20" stroke="#222" stroke-width="0.8"/>
<text x="271.5" y="663.50" font-size="6.6" text-anchor="end" fill="#444" stroke="#444" stroke-width="0.145" >2.5</text>
<line x1="273.5" y1="643.70" x2="276.5" y2="643.70" stroke="#222" stroke-width="0.8"/>
<text x="271.5" y="646.00" font-size="6.6" text-anchor="end" fill="#444" stroke="#444" stroke-width="0.145" >5.0</text>
<line x1="273.5" y1="626.20" x2="276.5" y2="626.20" stroke="#222" stroke-width="0.8"/>
<text x="271.5" y="628.50" font-size="6.6" text-anchor="end" fill="#444" stroke="#444" stroke-width="0.145" >7.5</text>
<rect x="278.30" y="629.70" width="13.0" height="49.00" fill="#f5b800"/>
<path d="M284.80,638.80 L284.80,622.00 M281.20,638.80 L288.40,638.80 M281.20,622.00 L288.40,622.00" stroke="#222" stroke-width="0.9" fill="none"/>
<line x1="284.80" y1="678.7" x2="284.80" y2="681.70" stroke="#222" stroke-width="0.8"/>
<text x="284.80" y="691.00" font-size="6.4" text-anchor="middle" fill="#333" stroke="#333" stroke-width="0.141" >7</text>
<rect x="292.90" y="654.90" width="13.0" height="23.80" fill="#f5b800"/>
<path d="M299.40,655.95 L299.40,652.80 M295.80,655.95 L303.00,655.95 M295.80,652.80 L303.00,652.80" stroke="#222" stroke-width="0.9" fill="none"/>
<line x1="299.40" y1="678.7" x2="299.40" y2="681.70" stroke="#222" stroke-width="0.8"/>
<text x="299.40" y="691.00" font-size="6.4" text-anchor="middle" fill="#333" stroke="#333" stroke-width="0.141" >14</text>
<rect x="307.70" y="647.90" width="13.0" height="30.80" fill="#f5b800"/>
<path d="M314.20,648.39 L314.20,647.41 M310.60,648.39 L317.80,648.39 M310.60,647.41 L317.80,647.41" stroke="#222" stroke-width="0.9" fill="none"/>
<line x1="314.20" y1="678.7" x2="314.20" y2="681.70" stroke="#222" stroke-width="0.8"/>
<text x="314.20" y="691.00" font-size="6.4" text-anchor="middle" fill="#333" stroke="#333" stroke-width="0.141" >21</text>
<rect x="322.40" y="643.00" width="13.0" height="35.70" fill="#f5b800"/>
<path d="M328.90,645.80 L328.90,640.20 M325.30,645.80 L332.50,645.80 M325.30,640.20 L332.50,640.20" stroke="#222" stroke-width="0.9" fill="none"/>
<line x1="328.90" y1="678.7" x2="328.90" y2="681.70" stroke="#222" stroke-width="0.8"/>
<text x="328.90" y="691.00" font-size="6.4" text-anchor="middle" fill="#333" stroke="#333" stroke-width="0.141" >28</text>
<text x="305.8" y="600.4" font-size="6.7" text-anchor="middle" fill="#333" stroke="#333" stroke-width="0.18">CD1c<tspan font-size="4.2" dy="-2.6">+</tspan><tspan dy="2.6">​</tspan> CD14<tspan font-size="4.2" dy="-2.6">−</tspan><tspan dy="2.6">​</tspan></text>
<text x="305.8" y="608.6" font-size="6.2" text-anchor="middle" fill="#333" stroke="#333" stroke-width="0.136" >cells (cDC2)</text>
<path d="M362.5,610.8 L362.5,678.5 L424,678.5" fill="none" stroke="#1a1a1a" stroke-width="1.1"/>
<line x1="359.1" y1="678.20" x2="362.1" y2="678.20" stroke="#222" stroke-width="0.8"/>
<text x="357.1" y="680.50" font-size="6.6" text-anchor="end" fill="#444" stroke="#444" stroke-width="0.145" >0</text>
<line x1="359.1" y1="663.20" x2="362.1" y2="663.20" stroke="#222" stroke-width="0.8"/>
<text x="357.1" y="665.50" font-size="6.6" text-anchor="end" fill="#444" stroke="#444" stroke-width="0.145" >5</text>
<line x1="359.1" y1="648.20" x2="362.1" y2="648.20" stroke="#222" stroke-width="0.8"/>
<text x="357.1" y="650.50" font-size="6.6" text-anchor="end" fill="#444" stroke="#444" stroke-width="0.145" >10</text>
<line x1="359.1" y1="633.20" x2="362.1" y2="633.20" stroke="#222" stroke-width="0.8"/>
<text x="357.1" y="635.50" font-size="6.6" text-anchor="end" fill="#444" stroke="#444" stroke-width="0.145" >15</text>
<line x1="359.1" y1="618.20" x2="362.1" y2="618.20" stroke="#222" stroke-width="0.8"/>
<text x="357.1" y="620.50" font-size="6.6" text-anchor="end" fill="#444" stroke="#444" stroke-width="0.145" >20</text>
<rect x="363.90" y="672.80" width="13.0" height="5.40" fill="#2ea836"/>
<path d="M370.40,674.30 L370.40,671.00 M366.80,674.30 L374.00,674.30 M366.80,671.00 L374.00,671.00" stroke="#222" stroke-width="0.9" fill="none"/>
<line x1="370.40" y1="678.2" x2="370.40" y2="681.20" stroke="#222" stroke-width="0.8"/>
<text x="370.40" y="690.50" font-size="6.4" text-anchor="middle" fill="#333" stroke="#333" stroke-width="0.141" >7</text>
<rect x="378.50" y="665.00" width="13.0" height="13.20" fill="#2ea836"/>
<path d="M385.00,668.30 L385.00,660.20 M381.40,668.30 L388.60,668.30 M381.40,660.20 L388.60,660.20" stroke="#222" stroke-width="0.9" fill="none"/>
<line x1="385.00" y1="678.2" x2="385.00" y2="681.20" stroke="#222" stroke-width="0.8"/>
<text x="385.00" y="690.50" font-size="6.4" text-anchor="middle" fill="#333" stroke="#333" stroke-width="0.141" >14</text>
<rect x="393.30" y="651.20" width="13.0" height="27.00" fill="#2ea836"/>
<path d="M399.80,655.40 L399.80,646.40 M396.20,655.40 L403.40,655.40 M396.20,646.40 L403.40,646.40" stroke="#222" stroke-width="0.9" fill="none"/>
<line x1="399.80" y1="678.2" x2="399.80" y2="681.20" stroke="#222" stroke-width="0.8"/>
<text x="399.80" y="690.50" font-size="6.4" text-anchor="middle" fill="#333" stroke="#333" stroke-width="0.141" >21</text>
<rect x="408.00" y="633.20" width="13.0" height="45.00" fill="#2ea836"/>
<path d="M414.50,644.60 L414.50,621.20 M410.90,644.60 L418.10,644.60 M410.90,621.20 L418.10,621.20" stroke="#222" stroke-width="0.9" fill="none"/>
<line x1="414.50" y1="678.2" x2="414.50" y2="681.20" stroke="#222" stroke-width="0.8"/>
<text x="414.50" y="690.50" font-size="6.4" text-anchor="middle" fill="#333" stroke="#333" stroke-width="0.141" >28</text>
<text x="392.8" y="600.4" font-size="6.7" text-anchor="middle" fill="#333" stroke="#333" stroke-width="0.18">CD10<tspan font-size="4.2" dy="-2.6">+</tspan><tspan dy="2.6">​</tspan> cells</text>
<text x="392.8" y="608.6" font-size="6.2" text-anchor="middle" fill="#333" stroke="#333" stroke-width="0.136" >(Lymphoid)</text>
<path d="M447.5,611 L447.5,678.5 L510,678.5" fill="none" stroke="#1a1a1a" stroke-width="1.1"/>
<line x1="444.9" y1="678.70" x2="447.9" y2="678.70" stroke="#222" stroke-width="0.8"/>
<text x="442.9" y="681.00" font-size="6.6" text-anchor="end" fill="#444" stroke="#444" stroke-width="0.145" >0</text>
<line x1="444.9" y1="658.40" x2="447.9" y2="658.40" stroke="#222" stroke-width="0.8"/>
<text x="442.9" y="660.70" font-size="6.6" text-anchor="end" fill="#444" stroke="#444" stroke-width="0.145" >2</text>
<line x1="444.9" y1="638.10" x2="447.9" y2="638.10" stroke="#222" stroke-width="0.8"/>
<text x="442.9" y="640.40" font-size="6.6" text-anchor="end" fill="#444" stroke="#444" stroke-width="0.145" >4</text>
<line x1="444.9" y1="617.80" x2="447.9" y2="617.80" stroke="#222" stroke-width="0.8"/>
<text x="442.9" y="620.10" font-size="6.6" text-anchor="end" fill="#444" stroke="#444" stroke-width="0.145" >6</text>
<rect x="449.70" y="677.69" width="13.0" height="1.01" fill="#0e6b50"/>
<path d="M456.20,678.19 L456.20,676.67 M452.60,678.19 L459.80,678.19 M452.60,676.67 L459.80,676.67" stroke="#222" stroke-width="0.9" fill="none"/>
<line x1="456.20" y1="678.7" x2="456.20" y2="681.70" stroke="#222" stroke-width="0.8"/>
<text x="456.20" y="691.00" font-size="6.4" text-anchor="middle" fill="#333" stroke="#333" stroke-width="0.141" >7</text>
<rect x="464.30" y="676.47" width="13.0" height="2.23" fill="#0e6b50"/>
<path d="M470.80,676.87 L470.80,675.86 M467.20,676.87 L474.40,676.87 M467.20,675.86 L474.40,675.86" stroke="#222" stroke-width="0.9" fill="none"/>
<line x1="470.80" y1="678.7" x2="470.80" y2="681.70" stroke="#222" stroke-width="0.8"/>
<text x="470.80" y="691.00" font-size="6.4" text-anchor="middle" fill="#333" stroke="#333" stroke-width="0.141" >14</text>
<rect x="479.10" y="657.38" width="13.0" height="21.32" fill="#0e6b50"/>
<path d="M485.60,658.91 L485.60,654.85 M482.00,658.91 L489.20,658.91 M482.00,654.85 L489.20,654.85" stroke="#222" stroke-width="0.9" fill="none"/>
<line x1="485.60" y1="678.7" x2="485.60" y2="681.70" stroke="#222" stroke-width="0.8"/>
<text x="485.60" y="691.00" font-size="6.4" text-anchor="middle" fill="#333" stroke="#333" stroke-width="0.141" >21</text>
<rect x="493.80" y="623.89" width="13.0" height="54.81" fill="#0e6b50"/>
<path d="M500.30,625.41 L500.30,621.86 M496.70,625.41 L503.90,625.41 M496.70,621.86 L503.90,621.86" stroke="#222" stroke-width="0.9" fill="none"/>
<line x1="500.30" y1="678.7" x2="500.30" y2="681.70" stroke="#222" stroke-width="0.8"/>
<text x="500.30" y="691.00" font-size="6.4" text-anchor="middle" fill="#333" stroke="#333" stroke-width="0.141" >28</text>
<text x="478" y="600.4" font-size="6.7" text-anchor="middle" fill="#333" stroke="#333" stroke-width="0.18">CD19<tspan font-size="4.2" dy="-2.6">+</tspan><tspan dy="2.6">​</tspan> cells</text>
<text x="478" y="608.6" font-size="6.2" text-anchor="middle" fill="#333" stroke="#333" stroke-width="0.136" >(Early B cell)</text>
<text x="393.1" y="702.6" font-size="8.8" text-anchor="middle" fill="#222" stroke="#222" stroke-width="0.194" textLength="10.2" lengthAdjust="spacingAndGlyphs" >Day</text>
<text x="250.2" y="581" font-size="7.2" text-anchor="middle" fill="#222" stroke="#222" stroke-width="0.158" textLength="81" lengthAdjust="spacingAndGlyphs" transform="rotate(-90 250.2 581)">Percent cells in total population</text>
<rect x="0" y="0" width="520" height="1" fill="#4a4a4a"/><rect x="0" y="0" width="1.1" height="712" fill="#4a4a4a"/><rect x="518.8" y="0" width="1.2" height="712" fill="#4a4a4a"/><rect x="0" y="710.1" width="520" height="1.9" fill="#3a3a3a"/>
</svg></body></html>
